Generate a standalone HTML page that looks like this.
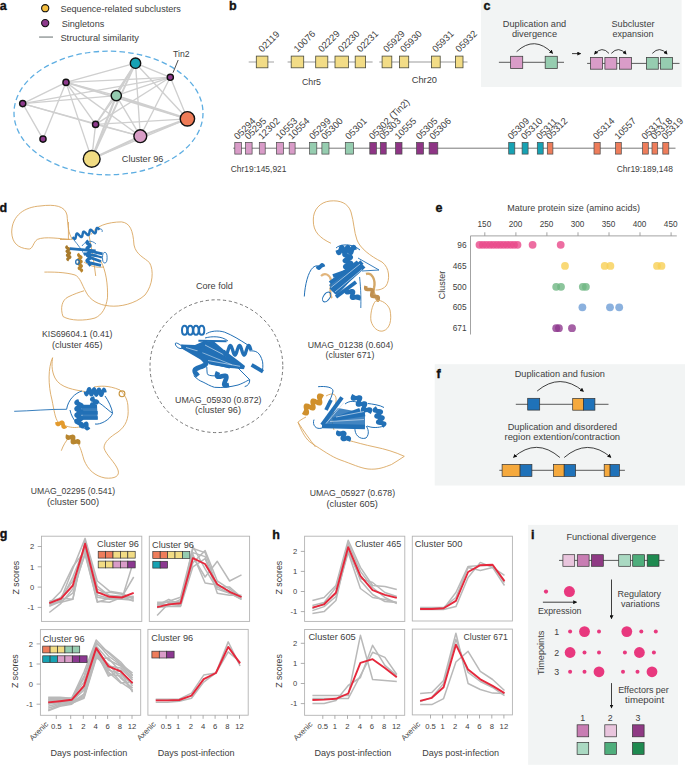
<!DOCTYPE html>
<html><head><meta charset="utf-8"><style>
html,body{margin:0;padding:0;background:#fff;}
svg{display:block;}
text{font-family:"Liberation Sans", sans-serif;}
</style></head><body>
<svg width="685" height="765" viewBox="0 0 685 765">
<rect width="685" height="765" fill="#fff"/>
<text x="-0.3" y="9.9" font-size="12.5" font-weight="bold" fill="#111" stroke="#111" stroke-width="0.35">a</text>
<circle cx="45.2" cy="8.2" r="3.6" fill="#f6bf3f" stroke="#111" stroke-width="1.1"/>
<circle cx="45.2" cy="23.1" r="3.6" fill="#8d3a8c" stroke="#111" stroke-width="1.1"/>
<line x1="39.1" y1="37.1" x2="53" y2="37.1" stroke="#a9aeae" stroke-width="1.8"/>
<text x="60.4" y="12.0" font-size="9" text-anchor="start" fill="#404040" font-weight="normal" textLength="120.5" lengthAdjust="spacingAndGlyphs" >Sequence-related subclusters</text>
<text x="61.7" y="26.6" font-size="9" text-anchor="start" fill="#404040" font-weight="normal" textLength="42.6" lengthAdjust="spacingAndGlyphs" >Singletons</text>
<text x="60.4" y="41.1" font-size="9" text-anchor="start" fill="#404040" font-weight="normal" textLength="78.5" lengthAdjust="spacingAndGlyphs" >Structural similarity</text>
<g stroke="#cfcfcf" stroke-linecap="round">
<line x1="66.0" y1="82.4" x2="135.5" y2="63.2" stroke-width="1.35"/>
<line x1="66.0" y1="82.4" x2="170.3" y2="77.3" stroke-width="1.35"/>
<line x1="66.0" y1="82.4" x2="116.3" y2="95.6" stroke-width="1.35"/>
<line x1="66.0" y1="82.4" x2="187.4" y2="118.8" stroke-width="1.76"/>
<line x1="66.0" y1="82.4" x2="140.3" y2="136.2" stroke-width="1.35"/>
<line x1="66.0" y1="82.4" x2="95.6" y2="124.4" stroke-width="1.35"/>
<line x1="66.0" y1="82.4" x2="91.7" y2="158.9" stroke-width="1.35"/>
<line x1="66.0" y1="82.4" x2="22.7" y2="103.6" stroke-width="1.35"/>
<line x1="66.0" y1="82.4" x2="43.0" y2="139.1" stroke-width="1.35"/>
<line x1="22.7" y1="103.6" x2="116.3" y2="95.6" stroke-width="1.35"/>
<line x1="22.7" y1="103.6" x2="170.3" y2="77.3" stroke-width="1.35"/>
<line x1="22.7" y1="103.6" x2="95.6" y2="124.4" stroke-width="1.35"/>
<line x1="22.7" y1="103.6" x2="43.0" y2="139.1" stroke-width="1.35"/>
<line x1="22.7" y1="103.6" x2="140.3" y2="136.2" stroke-width="1.35"/>
<line x1="135.5" y1="63.2" x2="116.3" y2="95.6" stroke-width="1.98"/>
<line x1="135.5" y1="63.2" x2="91.7" y2="158.9" stroke-width="1.98"/>
<line x1="135.5" y1="63.2" x2="170.3" y2="77.3" stroke-width="1.35"/>
<line x1="135.5" y1="63.2" x2="187.4" y2="118.8" stroke-width="1.35"/>
<line x1="135.5" y1="63.2" x2="140.3" y2="136.2" stroke-width="1.35"/>
<line x1="135.5" y1="63.2" x2="95.6" y2="124.4" stroke-width="1.35"/>
<line x1="170.3" y1="77.3" x2="116.3" y2="95.6" stroke-width="1.35"/>
<line x1="170.3" y1="77.3" x2="95.6" y2="124.4" stroke-width="1.35"/>
<line x1="170.3" y1="77.3" x2="140.3" y2="136.2" stroke-width="1.35"/>
<line x1="170.3" y1="77.3" x2="187.4" y2="118.8" stroke-width="1.35"/>
<line x1="116.3" y1="95.6" x2="91.7" y2="158.9" stroke-width="2.20"/>
<line x1="116.3" y1="95.6" x2="140.3" y2="136.2" stroke-width="1.35"/>
<line x1="116.3" y1="95.6" x2="187.4" y2="118.8" stroke-width="1.98"/>
<line x1="116.3" y1="95.6" x2="95.6" y2="124.4" stroke-width="1.35"/>
<line x1="187.4" y1="118.8" x2="95.6" y2="124.4" stroke-width="1.35"/>
<line x1="187.4" y1="118.8" x2="140.3" y2="136.2" stroke-width="2.20"/>
<line x1="187.4" y1="118.8" x2="91.7" y2="158.9" stroke-width="1.35"/>
<line x1="140.3" y1="136.2" x2="91.7" y2="158.9" stroke-width="2.20"/>
<line x1="140.3" y1="136.2" x2="95.6" y2="124.4" stroke-width="1.35"/>
<line x1="95.6" y1="124.4" x2="91.7" y2="158.9" stroke-width="1.35"/>
</g>
<ellipse cx="108.5" cy="113" rx="94.5" ry="61.8" fill="none" stroke="#5eaee2" stroke-width="1.3" stroke-dasharray="5.5 3.2"/>
<circle cx="135.5" cy="63.2" r="5.2" fill="#16a2b4" stroke="#111" stroke-width="1.4"/>
<circle cx="170.3" cy="77.3" r="3.1" fill="#8d3a8c" stroke="#111" stroke-width="1.4"/>
<circle cx="66.0" cy="82.4" r="3.1" fill="#8d3a8c" stroke="#111" stroke-width="1.4"/>
<circle cx="116.3" cy="95.6" r="5.1" fill="#94ccb0" stroke="#111" stroke-width="1.4"/>
<circle cx="22.7" cy="103.6" r="3.1" fill="#8d3a8c" stroke="#111" stroke-width="1.4"/>
<circle cx="187.4" cy="118.8" r="7.2" fill="#ee7b57" stroke="#111" stroke-width="1.4"/>
<circle cx="95.6" cy="124.4" r="3.1" fill="#8d3a8c" stroke="#111" stroke-width="1.4"/>
<circle cx="43.0" cy="139.1" r="3.1" fill="#8d3a8c" stroke="#111" stroke-width="1.4"/>
<circle cx="140.3" cy="136.2" r="6.4" fill="#d89dc6" stroke="#111" stroke-width="1.4"/>
<circle cx="91.7" cy="158.9" r="8.4" fill="#f1dc83" stroke="#111" stroke-width="1.4"/>
<text x="173.0" y="56.8" font-size="9" text-anchor="start" fill="#404040" font-weight="normal" textLength="16.5" lengthAdjust="spacingAndGlyphs" >Tin2</text>
<line x1="178.2" y1="60" x2="173" y2="72.7" stroke="#222" stroke-width="0.8"/>
<text x="121.8" y="162.0" font-size="9" text-anchor="start" fill="#404040" font-weight="normal" textLength="41.6" lengthAdjust="spacingAndGlyphs" >Cluster 96</text>
<text x="229.0" y="9.9" font-size="12.5" font-weight="bold" fill="#111" stroke="#111" stroke-width="0.35">b</text>
<g stroke="#bdbdbd" stroke-width="1.4">
<line x1="248.7" y1="62" x2="274" y2="62"/>
<line x1="287.6" y1="62" x2="372.6" y2="62"/>
<line x1="379.3" y1="62" x2="467.5" y2="62"/>
</g>
<rect x="256.3" y="56.1" width="11.6" height="11.7" fill="#f2dc86" stroke="#4a4a3a" stroke-width="0.8"/>
<text transform="translate(262.2,52.8) rotate(-45)" font-size="9.4" text-anchor="start" fill="#404040">02119</text>
<rect x="291.2" y="56.1" width="12.5" height="11.7" fill="#f2dc86" stroke="#4a4a3a" stroke-width="0.8"/>
<text transform="translate(297.6,52.8) rotate(-45)" font-size="9.4" text-anchor="start" fill="#404040">10076</text>
<rect x="315.7" y="56.1" width="12.1" height="11.7" fill="#f2dc86" stroke="#4a4a3a" stroke-width="0.8"/>
<text transform="translate(321.9,52.8) rotate(-45)" font-size="9.4" text-anchor="start" fill="#404040">02229</text>
<rect x="335" y="56.1" width="13.4" height="11.7" fill="#f2dc86" stroke="#4a4a3a" stroke-width="0.8"/>
<text transform="translate(341.8,52.8) rotate(-45)" font-size="9.4" text-anchor="start" fill="#404040">02230</text>
<rect x="355.2" y="56.1" width="10.4" height="11.7" fill="#f2dc86" stroke="#4a4a3a" stroke-width="0.8"/>
<text transform="translate(360.5,52.8) rotate(-45)" font-size="9.4" text-anchor="start" fill="#404040">02231</text>
<rect x="382.1" y="56.1" width="9.7" height="11.7" fill="#f2dc86" stroke="#4a4a3a" stroke-width="0.8"/>
<text transform="translate(387.1,52.8) rotate(-45)" font-size="9.4" text-anchor="start" fill="#404040">05929</text>
<rect x="399.4" y="56.1" width="9.3" height="11.7" fill="#f2dc86" stroke="#4a4a3a" stroke-width="0.8"/>
<text transform="translate(404.1,52.8) rotate(-45)" font-size="9.4" text-anchor="start" fill="#404040">05930</text>
<rect x="431.5" y="56.1" width="8.7" height="11.7" fill="#f2dc86" stroke="#4a4a3a" stroke-width="0.8"/>
<text transform="translate(436.0,52.8) rotate(-45)" font-size="9.4" text-anchor="start" fill="#404040">05931</text>
<rect x="455.4" y="56.1" width="7.6" height="11.7" fill="#f2dc86" stroke="#4a4a3a" stroke-width="0.8"/>
<text transform="translate(459.3,52.8) rotate(-45)" font-size="9.4" text-anchor="start" fill="#404040">05932</text>
<text x="301.9" y="84.5" font-size="9" text-anchor="start" fill="#404040" font-weight="normal" textLength="19.1" lengthAdjust="spacingAndGlyphs" >Chr5</text>
<text x="411.7" y="83.0" font-size="9" text-anchor="start" fill="#404040" font-weight="normal" textLength="25.3" lengthAdjust="spacingAndGlyphs" >Chr20</text>
<line x1="233.2" y1="148.2" x2="675.5" y2="148.2" stroke="#6a6a6a" stroke-width="0.9"/>
<rect x="234.8" y="142.4" width="6.6" height="11.7" fill="#d99cc8" stroke="#4a4a4a" stroke-width="0.7"/>
<text transform="translate(237.8,140.1) rotate(-45)" font-size="9.4" text-anchor="start" fill="#404040">05294</text>
<rect x="245.6" y="142.4" width="6.5" height="11.7" fill="#d99cc8" stroke="#4a4a4a" stroke-width="0.7"/>
<text transform="translate(248.5,140.1) rotate(-45)" font-size="9.4" text-anchor="start" fill="#404040">05295</text>
<rect x="259.3" y="142.4" width="5.9" height="11.7" fill="#d99cc8" stroke="#4a4a4a" stroke-width="0.7"/>
<text transform="translate(261.9,140.1) rotate(-45)" font-size="9.4" text-anchor="start" fill="#404040">12302</text>
<rect x="276.4" y="142.4" width="7.0" height="11.7" fill="#d99cc8" stroke="#4a4a4a" stroke-width="0.7"/>
<text transform="translate(279.6,140.1) rotate(-45)" font-size="9.4" text-anchor="start" fill="#404040">10553</text>
<rect x="289.2" y="142.4" width="5.9" height="11.7" fill="#d99cc8" stroke="#4a4a4a" stroke-width="0.7"/>
<text transform="translate(291.8,140.1) rotate(-45)" font-size="9.4" text-anchor="start" fill="#404040">10554</text>
<rect x="309.6" y="142.4" width="7.2" height="11.7" fill="#96cdb0" stroke="#4a4a4a" stroke-width="0.7"/>
<text transform="translate(312.9,140.1) rotate(-45)" font-size="9.4" text-anchor="start" fill="#404040">05299</text>
<rect x="321.9" y="142.4" width="7.1" height="11.7" fill="#96cdb0" stroke="#4a4a4a" stroke-width="0.7"/>
<text transform="translate(325.1,140.1) rotate(-45)" font-size="9.4" text-anchor="start" fill="#404040">05300</text>
<rect x="345.3" y="142.4" width="8.2" height="11.7" fill="#96cdb0" stroke="#4a4a4a" stroke-width="0.7"/>
<text transform="translate(349.1,140.1) rotate(-45)" font-size="9.4" text-anchor="start" fill="#404040">05301</text>
<rect x="369.8" y="142.4" width="6.6" height="11.7" fill="#8e3585" stroke="#4a4a4a" stroke-width="0.7"/>
<text transform="translate(372.8,140.1) rotate(-45)" font-size="9.4" text-anchor="start" fill="#404040">05302 (Tin2)</text>
<rect x="380.3" y="142.4" width="5.9" height="11.7" fill="#8e3585" stroke="#4a4a4a" stroke-width="0.7"/>
<text transform="translate(382.9,140.1) rotate(-45)" font-size="9.4" text-anchor="start" fill="#404040">05303</text>
<rect x="395.5" y="142.4" width="6.5" height="11.7" fill="#8e3585" stroke="#4a4a4a" stroke-width="0.7"/>
<text transform="translate(398.4,140.1) rotate(-45)" font-size="9.4" text-anchor="start" fill="#404040">10555</text>
<rect x="416.5" y="142.4" width="7.0" height="11.7" fill="#8e3585" stroke="#4a4a4a" stroke-width="0.7"/>
<text transform="translate(419.7,140.1) rotate(-45)" font-size="9.4" text-anchor="start" fill="#404040">05305</text>
<rect x="429.1" y="142.4" width="8.7" height="11.7" fill="#8e3585" stroke="#4a4a4a" stroke-width="0.7"/>
<text transform="translate(433.2,140.1) rotate(-45)" font-size="9.4" text-anchor="start" fill="#404040">05306</text>
<rect x="508.7" y="142.4" width="6.1" height="11.7" fill="#17a2b3" stroke="#4a4a4a" stroke-width="0.7"/>
<text transform="translate(511.4,140.1) rotate(-45)" font-size="9.4" text-anchor="start" fill="#404040">05309</text>
<rect x="522.1" y="142.4" width="6.0" height="11.7" fill="#17a2b3" stroke="#4a4a4a" stroke-width="0.7"/>
<text transform="translate(524.8,140.1) rotate(-45)" font-size="9.4" text-anchor="start" fill="#404040">05310</text>
<rect x="537.3" y="142.4" width="5.9" height="11.7" fill="#17a2b3" stroke="#4a4a4a" stroke-width="0.7"/>
<text transform="translate(540.0,140.1) rotate(-45)" font-size="9.4" text-anchor="start" fill="#404040">05311</text>
<rect x="547.3" y="142.4" width="5.6" height="11.7" fill="#ee7d5b" stroke="#4a4a4a" stroke-width="0.7"/>
<text transform="translate(549.8,140.1) rotate(-45)" font-size="9.4" text-anchor="start" fill="#404040">05312</text>
<rect x="594" y="142.4" width="6.2" height="11.7" fill="#ee7d5b" stroke="#4a4a4a" stroke-width="0.7"/>
<text transform="translate(596.8,140.1) rotate(-45)" font-size="9.4" text-anchor="start" fill="#404040">05314</text>
<rect x="615.6" y="142.4" width="5.7" height="11.7" fill="#ee7d5b" stroke="#4a4a4a" stroke-width="0.7"/>
<text transform="translate(618.2,140.1) rotate(-45)" font-size="9.4" text-anchor="start" fill="#404040">10557</text>
<rect x="642.6" y="142.4" width="5.7" height="11.7" fill="#ee7d5b" stroke="#4a4a4a" stroke-width="0.7"/>
<text transform="translate(645.2,140.1) rotate(-45)" font-size="9.4" text-anchor="start" fill="#404040">05317</text>
<rect x="652" y="142.4" width="5.7" height="11.7" fill="#ee7d5b" stroke="#4a4a4a" stroke-width="0.7"/>
<text transform="translate(654.6,140.1) rotate(-45)" font-size="9.4" text-anchor="start" fill="#404040">05318</text>
<rect x="662.8" y="142.4" width="6.0" height="11.7" fill="#ee7d5b" stroke="#4a4a4a" stroke-width="0.7"/>
<text transform="translate(665.5,140.1) rotate(-45)" font-size="9.4" text-anchor="start" fill="#404040">05319</text>
<text x="230.8" y="172.4" font-size="9" text-anchor="start" fill="#404040" font-weight="normal" textLength="55.6" lengthAdjust="spacingAndGlyphs" >Chr19:145,921</text>
<text x="616.7" y="171.6" font-size="9" text-anchor="start" fill="#404040" font-weight="normal" textLength="56.2" lengthAdjust="spacingAndGlyphs" >Chr19:189,148</text>
<rect x="481" y="0" width="200.6" height="87" fill="#f2f4f4"/>
<text x="483.6" y="10.0" font-size="12.5" font-weight="bold" fill="#111" stroke="#111" stroke-width="0.35">c</text>
<text x="534.5" y="27.0" font-size="9" text-anchor="middle" fill="#404040" font-weight="normal" textLength="63.3" lengthAdjust="spacingAndGlyphs" >Duplication and</text>
<text x="534.5" y="36.8" font-size="9" text-anchor="middle" fill="#404040" font-weight="normal" textLength="45.2" lengthAdjust="spacingAndGlyphs" >divergence</text>
<text x="633.0" y="27.0" font-size="9" text-anchor="middle" fill="#404040" font-weight="normal" textLength="43" lengthAdjust="spacingAndGlyphs" >Subcluster</text>
<text x="633.0" y="37.0" font-size="9" text-anchor="middle" fill="#404040" font-weight="normal" textLength="40.8" lengthAdjust="spacingAndGlyphs" >expansion</text>
<line x1="498.9" y1="62.3" x2="564" y2="62.3" stroke="#333" stroke-width="0.8"/>
<rect x="510.6" y="56.3" width="12.1" height="12.2" fill="#d99cc8" stroke="#444" stroke-width="0.8"/>
<rect x="545.2" y="56.3" width="12.1" height="12.2" fill="#96cdb0" stroke="#444" stroke-width="0.8"/>
<line x1="587.1" y1="63.4" x2="679.5" y2="63.4" stroke="#333" stroke-width="0.8"/>
<rect x="590.6" y="57.4" width="11.9" height="11.8" fill="#d99cc8" stroke="#444" stroke-width="0.8"/>
<rect x="604.9" y="57.4" width="11.9" height="11.8" fill="#d99cc8" stroke="#444" stroke-width="0.8"/>
<rect x="619.5" y="57.4" width="11.9" height="11.8" fill="#d99cc8" stroke="#444" stroke-width="0.8"/>
<rect x="646.4" y="57.4" width="11.9" height="11.8" fill="#96cdb0" stroke="#444" stroke-width="0.8"/>
<rect x="660.6" y="57.4" width="11.9" height="11.8" fill="#96cdb0" stroke="#444" stroke-width="0.8"/>
<defs><marker id="ah" viewBox="0 0 10 10" refX="8" refY="5" markerWidth="5" markerHeight="5" orient="auto-start-reverse"><path d="M0,0 L10,5 L0,10 z" fill="#111"/></marker></defs>
<g fill="none" stroke="#111" stroke-width="0.8">
<path d="M516.6,51.7 Q534.5,35 552.5,53.2" marker-end="url(#ah)"/>
<path d="M609,53.4 Q602,45.5 594.6,54" marker-end="url(#ah)"/>
<path d="M611.3,53.4 Q618.5,45.5 626,54" marker-end="url(#ah)"/>
<path d="M652.3,53.4 Q659.6,45.5 667,54" marker-end="url(#ah)"/>
<line x1="572" y1="53.6" x2="580.5" y2="53.6" marker-end="url(#ah)"/>
</g>
<text x="-0.5" y="211.8" font-size="12.5" font-weight="bold" fill="#111" stroke="#111" stroke-width="0.35">d</text>
<path d="M72.4,239.4 C60,239 45,236 37.4,239.4 C33,242 33,250 28,249 C18,248 12,243 11.7,232 C12,215 25,207 40,206 C55,204 65,206 67,215 C68,225 68,233 72.4,239.4" fill="none" stroke="#d8a257" stroke-width="0.85"/>
<path d="M91,234.7 C95,226 108,222 121.5,221.9 C130,223 133,230 134,245 C136,255 145,258 149.5,262.7 C154,270 153,285 145,295 C135,304 120,307 109.8,306 C98,305 90,300 86,292 C82,285 80,277 75,275 C65,272 52,272 44.4,272.1" fill="none" stroke="#d8a257" stroke-width="0.85"/>
<path d="M100.4,260.4 C106,270 108,285 107.5,297.8 C106,308 102,315 95,318 C85,321 70,321 63,316.5 C60,308 62,300 68,297 C74,294 80,292 84,290.8" fill="none" stroke="#d8a257" stroke-width="0.85"/>
<path d="M60,239.5 L69.9,239.5" fill="none" stroke="#d8a257" stroke-width="0.85"/>
<path d="M68.4,222 L68.4,239.5" fill="none" stroke="#d8a257" stroke-width="0.85"/>
<path d="M88.9,234.9 C92,250 94,262 95.7,276" fill="none" stroke="#d8a257" stroke-width="0.85"/>
<path d="M84,262 C90,266 96,268 104,267" fill="none" stroke="#d8a257" stroke-width="0.85"/>
<path d="M72.5,237.2 L73.2,237.9 L73.8,238.5 L74.3,238.9 L74.8,238.9 L75.2,238.7 L75.5,238.1 L75.7,237.2 L75.9,236.2 L76.1,235.3 L76.3,234.4 L76.6,233.8 L76.9,233.6 L77.4,233.6 L78.0,234.0 L78.6,234.6 L79.2,235.3 L79.9,236.0 L80.5,236.6 L81.1,237.0 L81.6,237.0 L81.9,236.8 L82.2,236.2 L82.4,235.3 L82.6,234.3 L82.8,233.4 L83.0,232.5 L83.3,231.9 L83.7,231.7 L84.2,231.7 L84.7,232.1 L85.3,232.7 L86.0,233.4 L86.7,234.1 L87.3,234.7 L87.8,235.1 L88.3,235.1 L88.7,234.9 L89.0,234.3 L89.2,233.4 L89.4,232.4 L89.6,231.5 L89.8,230.6 L90.1,230.0 L90.4,229.8 L90.9,229.8 L91.5,230.2 L92.1,230.8 L92.8,231.5 L93.4,232.2 L94.0,232.8 L94.6,233.2 L95.1,233.2 L95.4,233.0 L95.7,232.4 L95.9,231.5 L96.1,230.5 L96.3,229.6 L96.5,228.7 L96.8,228.1 L97.2,227.9 L97.7,227.9 L98.2,228.3 L98.8,228.9 L99.5,229.6" fill="none" stroke="#2270b6" stroke-width="2.465" stroke-linejoin="round"/>
<path d="M67.8,246.3 L67.3,246.6 L66.9,246.9 L66.7,247.1 L66.6,247.4 L66.7,247.6 L67.0,247.8 L67.5,248.1 L68.0,248.3 L68.5,248.5 L68.9,248.7 L69.2,248.9 L69.4,249.1 L69.3,249.4 L69.0,249.6 L68.6,249.9 L68.1,250.2 L67.7,250.5 L67.3,250.8 L67.0,251.1 L66.9,251.3 L67.1,251.5 L67.4,251.8 L67.8,252.0 L68.3,252.2 L68.8,252.4 L69.3,252.6 L69.6,252.8 L69.7,253.0 L69.6,253.3 L69.4,253.6 L69.0,253.8 L68.5,254.1 L68.0,254.4 L67.6,254.7 L67.4,255.0 L67.3,255.2 L67.4,255.5 L67.7,255.7 L68.1,255.9 L68.7,256.1 L69.2,256.3 L69.6,256.5 L69.9,256.7 L70.0,257.0 L70.0,257.2 L69.7,257.5 L69.3,257.8 L68.8,258.0 L68.4,258.3 L68.0,258.6 L67.7,258.9 L67.6,259.1 L67.7,259.4 L68.0,259.6 L68.5,259.8 L69.0,260.0" fill="none" stroke="#a87a2c" stroke-width="2.9" stroke-linejoin="round"/>
<path d="M79.7,254.0 L79.2,254.3 L78.8,254.6 L78.5,254.9 L78.5,255.1 L78.6,255.4 L78.9,255.7 L79.3,255.9 L79.8,256.2 L80.3,256.4 L80.7,256.7 L81.0,256.9 L81.1,257.2 L81.1,257.5 L80.8,257.8 L80.4,258.1 L79.9,258.4 L79.4,258.6 L79.0,258.9 L78.7,259.2 L78.7,259.5 L78.8,259.8 L79.1,260.0 L79.5,260.3 L80.0,260.5 L80.5,260.8 L80.9,261.0 L81.2,261.3 L81.3,261.6 L81.3,261.8 L81.0,262.1 L80.6,262.4 L80.1,262.7 L79.6,263.0 L79.2,263.3 L78.9,263.6 L78.9,263.8 L79.0,264.1 L79.3,264.4 L79.7,264.6 L80.2,264.9 L80.7,265.1 L81.1,265.4 L81.4,265.6 L81.5,265.9 L81.5,266.2 L81.2,266.5 L80.8,266.8 L80.3,267.0 L79.8,267.3 L79.4,267.6 L79.1,267.9 L79.1,268.2 L79.2,268.5 L79.5,268.7 L79.9,269.0 L80.4,269.2 L80.9,269.5 L81.3,269.7 L81.6,270.0 L81.7,270.3 L81.7,270.5 L81.4,270.8 L81.0,271.1 L80.5,271.4" fill="none" stroke="#b8842c" stroke-width="2.9" stroke-linejoin="round"/>
<path d="M88.5,241.0 L87.9,241.4 L87.4,241.8 L87.1,242.1 L87.0,242.5 L87.1,242.9 L87.4,243.3 L87.9,243.7 L88.5,244.0 L89.1,244.4 L89.6,244.8 L89.9,245.2 L90.0,245.6 L89.9,245.9 L89.6,246.3 L89.1,246.7 L88.5,247.1 L87.9,247.5 L87.4,247.8 L87.1,248.2 L87.0,248.6 L87.1,249.0 L87.4,249.4 L87.9,249.7 L88.5,250.1 L89.1,250.5 L89.6,250.9 L89.9,251.3 L90.0,251.6 L89.9,252.0 L89.6,252.4 L89.1,252.8 L88.5,253.2 L87.9,253.5 L87.4,253.9 L87.1,254.3 L87.0,254.7 L87.1,255.0 L87.4,255.4 L87.9,255.8 L88.5,256.2 L89.1,256.6 L89.6,256.9 L89.9,257.3 L90.0,257.7 L89.9,258.1 L89.6,258.5 L89.1,258.8 L88.5,259.2 L87.9,259.6 L87.4,260.0 L87.1,260.4 L87.0,260.7 L87.1,261.1 L87.4,261.5 L87.9,261.9 L88.5,262.3 L89.1,262.6 L89.6,263.0 L89.9,263.4 L90.0,263.8 L89.9,264.2 L89.6,264.5 L89.1,264.9 L88.5,265.3" fill="none" stroke="#2270b6" stroke-width="3.3349999999999995" stroke-linejoin="round"/>
<line x1="69.9" y1="248.6" x2="95.7" y2="250.9" stroke="#2270b6" stroke-width="2.61" stroke-linecap="butt"/>
<line x1="88.9" y1="250.9" x2="102.5" y2="253.9" stroke="#2270b6" stroke-width="2.755" stroke-linecap="butt"/>
<line x1="90.4" y1="257.7" x2="101" y2="261.5" stroke="#2270b6" stroke-width="2.9" stroke-linecap="butt"/>
<line x1="90.4" y1="263" x2="101" y2="265.3" stroke="#2270b6" stroke-width="2.9" stroke-linecap="butt"/>
<line x1="84" y1="253.5" x2="97" y2="256" stroke="#2270b6" stroke-width="2.61" stroke-linecap="butt"/>
<line x1="91" y1="254.5" x2="102" y2="257.5" stroke="#2270b6" stroke-width="2.32" stroke-linecap="butt"/>
<ellipse cx="104.8" cy="257.7" rx="2.3" ry="5.3" fill="none" stroke="#2270b6" stroke-width="0.9" transform="rotate(0 104.8 257.7)"/>
<ellipse cx="77.5" cy="262" rx="1.8" ry="2.4" fill="none" stroke="#2270b6" stroke-width="1.3" transform="rotate(0 77.5 262)"/>
<path d="M74,240 C78,245 82,250 85,256" fill="none" stroke="#2270b6" stroke-width="0.8"/>
<path d="M82,246 C86,240 92,240 96,244" fill="none" stroke="#2270b6" stroke-width="0.8"/>
<path d="M99.5,229.6 C101,228 103,230 102,232" fill="none" stroke="#2270b6" stroke-width="0.8"/>
<text x="77.2" y="336.8" font-size="8.8" text-anchor="middle" fill="#404040" font-weight="normal" textLength="70.5" lengthAdjust="spacingAndGlyphs" >KIS69604.1 (0.41)</text>
<text x="77.2" y="347.6" font-size="8.8" text-anchor="middle" fill="#404040" font-weight="normal" textLength="50.4" lengthAdjust="spacingAndGlyphs" >(cluster 465)</text>
<text x="214.4" y="289.3" font-size="8.8" text-anchor="middle" fill="#404040" font-weight="normal" textLength="36.9" lengthAdjust="spacingAndGlyphs" >Core fold</text>
<circle cx="216.4" cy="366.2" r="66.4" fill="none" stroke="#555" stroke-width="0.8" stroke-dasharray="3.2 2.6"/>
<ellipse cx="184.6" cy="330.3" rx="2.6" ry="4.5" fill="none" stroke="#2270b6" stroke-width="2.0" transform="rotate(0 184.6 330.3)"/>
<ellipse cx="190.3" cy="330.3" rx="2.6" ry="4.5" fill="none" stroke="#2270b6" stroke-width="2.0" transform="rotate(0 190.3 330.3)"/>
<ellipse cx="196" cy="330.3" rx="2.6" ry="4.5" fill="none" stroke="#2270b6" stroke-width="2.0" transform="rotate(0 196 330.3)"/>
<ellipse cx="201.7" cy="330.3" rx="2.6" ry="4.5" fill="none" stroke="#2270b6" stroke-width="2.0" transform="rotate(0 201.7 330.3)"/>
<path d="M205.9,334.1 C210,331 218,330 224.7,332.2 C232,335 240,340 247.7,344.9" fill="none" stroke="#2270b6" stroke-width="1"/>
<path d="M193.7,375.6 C197,379 200,381 203.1,382.1 C207,384 210,386 214.4,387.3 C222,388 230,387 238,385 C244,383 248,380 249.7,379.7" fill="none" stroke="#2270b6" stroke-width="1"/>
<path d="M206.8,367 C207,371 207,374 207.8,374.6 C210,376 214,376 216.3,375.6" fill="none" stroke="#2270b6" stroke-width="1"/>
<path d="M249.6,350.9 C256,350.5 260,352 262.6,361.8 C263,366 263,369 262,371" fill="none" stroke="#2270b6" stroke-width="1"/>
<path d="M229.8,359.8 C236,366 244,374 249.7,379.7 C250,383 248,386 244.7,386.6" fill="none" stroke="#2270b6" stroke-width="1"/>
<path d="M205,338 C212,336 222,336 228,341" fill="none" stroke="#2270b6" stroke-width="1"/>
<path d="M182.4,346.4 C178,343 175,342 175.3,344 C176,347 179,349 182.4,348.5" fill="none" stroke="#2270b6" stroke-width="1"/>
<polygon points="181,344.5 195,345 203,341.5 214,341.5 224,350 240,362 245,366 244,369 230,368 212,365 205,361 190,352 182,348.5" fill="#2270b6" fill-opacity="1"/>
<line x1="181.4" y1="346.4" x2="203.1" y2="349.2" stroke="#2270b6" stroke-width="3.19" stroke-linecap="butt"/>
<line x1="182.4" y1="347.3" x2="205" y2="360.5" stroke="#2270b6" stroke-width="3.045" stroke-linecap="butt"/>
<line x1="198.4" y1="340.8" x2="226.6" y2="341.2" stroke="#2270b6" stroke-width="2.03" stroke-linecap="butt"/>
<line x1="203.1" y1="341.7" x2="221" y2="351" stroke="#2270b6" stroke-width="2.9" stroke-linecap="butt"/>
<line x1="204" y1="341" x2="224.8" y2="356.8" stroke="#2270b6" stroke-width="3.045" stroke-linecap="butt"/>
<line x1="200" y1="349.9" x2="232.8" y2="362.8" stroke="#2270b6" stroke-width="3.045" stroke-linecap="butt"/>
<line x1="207.8" y1="361.4" x2="230" y2="367" stroke="#2270b6" stroke-width="3.045" stroke-linecap="butt"/>
<line x1="209" y1="362.8" x2="243.7" y2="367.7" stroke="#2270b6" stroke-width="3.045" stroke-linecap="butt"/>
<line x1="251.6" y1="364.8" x2="263" y2="371.7" stroke="#2270b6" stroke-width="3.77" stroke-linecap="butt"/>
<line x1="186" y1="347.5" x2="203" y2="352.5" stroke="#cfe0f0" stroke-width="0.7"/>
<line x1="205" y1="345" x2="226" y2="356" stroke="#cfe0f0" stroke-width="0.7"/>
<line x1="208" y1="360.5" x2="240" y2="366.3" stroke="#cfe0f0" stroke-width="0.7"/>
<line x1="202" y1="352.5" x2="232" y2="364.8" stroke="#cfe0f0" stroke-width="0.6"/>
<path d="M223.5,350.3 L224.1,352.1 L224.6,353.7 L225.2,354.7 L225.8,355.1 L226.4,354.7 L226.9,353.7 L227.5,352.1 L228.1,350.3 L228.7,348.5 L229.2,346.9 L229.8,345.9 L230.4,345.5 L230.9,345.9 L231.5,346.9 L232.1,348.5 L232.7,350.3 L233.2,352.1 L233.8,353.7 L234.4,354.7 L235.0,355.1 L235.5,354.7 L236.1,353.7 L236.7,352.1 L237.2,350.3 L237.8,348.5 L238.4,346.9 L239.0,345.9 L239.5,345.5 L240.1,345.9 L240.7,346.9 L241.3,348.5 L241.8,350.3 L242.4,352.1 L243.0,353.7 L243.6,354.7 L244.1,355.1 L244.7,354.7 L245.3,353.7 L245.8,352.1 L246.4,350.3 L247.0,348.5 L247.6,346.9 L248.1,345.9 L248.7,345.5 L249.3,345.9 L249.9,346.9 L250.4,348.5 L251.0,350.3" fill="none" stroke="#2270b6" stroke-width="3.3349999999999995" stroke-linejoin="round"/>
<path d="M205.0,349.0 L203.0,349.7 L201.3,350.5 L200.1,351.3 L199.5,352.4 L199.5,353.6 L200.2,355.0 L201.3,356.4 L202.7,358.0 L204.0,359.6 L205.2,361.0 L205.8,362.4 L205.9,363.6 L205.2,364.7 L204.0,365.5 L202.3,366.3 L200.3,367.0 L198.4,367.7 L196.7,368.5 L195.4,369.3 L194.8,370.4 L194.9,371.6 L195.5,373.0 L196.6,374.4 L198.0,376.0" fill="none" stroke="#2270b6" stroke-width="4.93" stroke-linejoin="round"/>
<path d="M218.0,372.0 L217.4,373.4 L217.0,374.7 L216.9,375.7 L217.2,376.4 L217.8,376.8 L218.9,376.8 L220.2,376.7 L221.7,376.3 L223.1,376.0 L224.5,375.8 L225.5,375.9 L226.2,376.2 L226.4,377.0 L226.3,378.0 L225.9,379.3 L225.3,380.7 L224.8,382.1 L224.4,383.3 L224.2,384.4 L224.5,385.1 L225.2,385.5 L226.2,385.5 L227.5,385.3 L229.0,385.0" fill="none" stroke="#2270b6" stroke-width="4.64" stroke-linejoin="round"/>
<text x="218.3" y="402.6" font-size="8.8" text-anchor="middle" fill="#404040" font-weight="normal" textLength="86.5" lengthAdjust="spacingAndGlyphs" >UMAG_05930 (0.872)</text>
<text x="218.0" y="413.2" font-size="8.8" text-anchor="middle" fill="#404040" font-weight="normal" textLength="46" lengthAdjust="spacingAndGlyphs" >(cluster 96)</text>
<path d="M331,243.3 C320,238 313,232 313.3,220 C313,210 320,202 330,201 C340,200 348,203 351,212 C354,222 354,232 357,240 C360,248 370,256 382,262 C390,268 390,280 386,286 C382,290 378,290 375.6,290" fill="none" stroke="#d8a257" stroke-width="0.85"/>
<path d="M375.6,301 C372,305 370,315 371,321 C373,328 378,332 383,331 C390,329 392,320 390,310 C388,304 382,300 376,300" fill="none" stroke="#d8a257" stroke-width="0.85"/>
<path d="M321,276 C325,272 330,275 331,280 C332,288 328,294 332,298" fill="none" stroke="#e2b57c" stroke-width="2.2"/>
<path d="M366,274 C372,272 376,280 374,288 C372,295 378,300 378,302" fill="none" stroke="#d4a868" stroke-width="2.4"/>
<path d="M366.0,286.0 L365.8,286.9 L365.7,287.8 L365.7,288.5 L366.0,289.1 L366.5,289.4 L367.2,289.5 L368.0,289.6 L369.0,289.5 L370.0,289.4 L370.8,289.5 L371.5,289.6 L372.0,289.9 L372.3,290.5 L372.3,291.2 L372.2,292.1 L372.0,293.0 L371.8,293.9 L371.7,294.8 L371.7,295.5 L372.0,296.1 L372.5,296.4 L373.2,296.5 L374.0,296.6 L375.0,296.5 L376.0,296.4 L376.8,296.5 L377.5,296.6 L378.0,296.9 L378.3,297.5 L378.3,298.2 L378.2,299.1 L378.0,300.0" fill="none" stroke="#c09050" stroke-width="3.48" stroke-linejoin="round"/>
<path d="M304.3,296.5 C305,285 308,272 313,267.5 C316,265 318,266 320,266" fill="none" stroke="#2270b6" stroke-width="1"/>
<ellipse cx="326.6" cy="297" rx="3.2" ry="5.5" fill="none" stroke="#2270b6" stroke-width="1" transform="rotate(35 326.6 297)"/>
<path d="M358,258 L379,270 L362,271" fill="none" stroke="#2270b6" stroke-width="0.9"/>
<path d="M359.6,277 C361,290 361,300 360.8,308" fill="none" stroke="#2270b6" stroke-width="0.9"/>
<path d="M336,248 C340,244 352,243 360,250" fill="none" stroke="#2270b6" stroke-width="1"/>
<path d="M337.5,250.0 L337.9,251.1 L338.2,252.1 L338.6,252.8 L339.0,253.0 L339.3,252.8 L339.7,252.1 L340.1,251.1 L340.4,250.0 L340.8,248.9 L341.1,247.9 L341.5,247.2 L341.9,247.0 L342.2,247.2 L342.6,247.9 L343.0,248.9 L343.3,250.0 L343.7,251.1 L344.1,252.1 L344.4,252.8 L344.8,253.0 L345.2,252.8 L345.5,252.1 L345.9,251.1 L346.2,250.0 L346.6,248.9 L347.0,247.9 L347.3,247.2 L347.7,247.0 L348.1,247.2 L348.4,247.9 L348.8,248.9 L349.2,250.0 L349.5,251.1 L349.9,252.1 L350.3,252.8 L350.6,253.0 L351.0,252.8 L351.4,252.1 L351.7,251.1 L352.1,250.0 L352.4,248.9 L352.8,247.9 L353.2,247.2 L353.5,247.0 L353.9,247.2 L354.3,247.9 L354.6,248.9 L355.0,250.0" fill="none" stroke="#2270b6" stroke-width="4.35" stroke-linejoin="round"/>
<path d="M347.5,253.0 L346.3,253.4 L345.3,253.9 L344.6,254.3 L344.4,254.7 L344.7,255.0 L345.4,255.4 L346.4,255.7 L347.7,256.0 L348.9,256.3 L350.0,256.6 L350.7,257.0 L350.9,257.3 L350.7,257.7 L350.1,258.1 L349.0,258.6 L347.8,259.0 L346.6,259.4 L345.6,259.9 L344.9,260.3 L344.7,260.7 L345.0,261.0 L345.7,261.4 L346.8,261.7 L348.0,262.0 L349.2,262.3 L350.3,262.6 L351.0,263.0 L351.3,263.3 L351.1,263.7 L350.4,264.1 L349.4,264.6 L348.2,265.0 L347.0,265.4 L345.9,265.9 L345.3,266.3 L345.1,266.7 L345.3,267.0 L346.0,267.4 L347.1,267.7 L348.3,268.0 L349.6,268.3 L350.6,268.6 L351.3,269.0 L351.6,269.3 L351.4,269.7 L350.7,270.1 L349.7,270.6 L348.5,271.0" fill="none" stroke="#2270b6" stroke-width="4.35" stroke-linejoin="round"/>
<polygon points="329,285 357,263 363,266 337,296" fill="#2270b6" fill-opacity="0.9"/>
<line x1="331" y1="290" x2="362" y2="262" stroke="#2270b6" stroke-width="4.64" stroke-linecap="butt"/>
<line x1="334" y1="293" x2="364" y2="266" stroke="#2270b6" stroke-width="4.35" stroke-linecap="butt"/>
<line x1="330" y1="283" x2="358" y2="262" stroke="#2270b6" stroke-width="4.06" stroke-linecap="butt"/>
<line x1="333" y1="276" x2="350" y2="270" stroke="#2270b6" stroke-width="3.77" stroke-linecap="butt"/>
<line x1="336" y1="297" x2="356" y2="282" stroke="#2270b6" stroke-width="3.77" stroke-linecap="butt"/>
<line x1="331" y1="287.5" x2="360" y2="264" stroke="#cfe0f0" stroke-width="0.7"/>
<line x1="335" y1="292" x2="362" y2="269.5" stroke="#cfe0f0" stroke-width="0.7"/>
<path d="M347.0,289.0 L346.7,290.0 L346.4,290.9 L346.4,291.7 L346.6,292.1 L347.1,292.4 L347.8,292.3 L348.7,292.1 L349.8,291.8 L350.8,291.4 L351.7,291.2 L352.4,291.1 L352.9,291.4 L353.1,291.8 L353.1,292.6 L352.8,293.5 L352.5,294.5 L352.2,295.5 L351.9,296.4 L351.9,297.2 L352.1,297.6 L352.6,297.9 L353.3,297.8 L354.2,297.6 L355.2,297.2 L356.3,296.9 L357.2,296.7 L357.9,296.6 L358.4,296.9 L358.6,297.3 L358.6,298.1 L358.3,299.0 L358.0,300.0" fill="none" stroke="#2270b6" stroke-width="4.35" stroke-linejoin="round"/>
<path d="M317.5,266.0 L317.8,266.7 L318.0,267.4 L318.4,267.8 L318.7,268.0 L319.1,268.0 L319.5,267.6 L320.0,267.1 L320.5,266.5 L321.0,265.9 L321.5,265.4 L321.9,265.0 L322.3,265.0 L322.6,265.2 L323.0,265.6 L323.2,266.3 L323.5,267.0" fill="none" stroke="#2270b6" stroke-width="3.77" stroke-linejoin="round"/>
<text x="350.5" y="347.6" font-size="8.8" text-anchor="middle" fill="#404040" font-weight="normal" textLength="85.5" lengthAdjust="spacingAndGlyphs" >UMAG_01238 (0.604)</text>
<text x="350.0" y="358.2" font-size="8.8" text-anchor="middle" fill="#404040" font-weight="normal" textLength="48.8" lengthAdjust="spacingAndGlyphs" >(cluster 671)</text>
<path d="M85.4,391.6 C75,390 60,388 55,378 C51,370 52,362 52.6,357.7 C48,368 48,385 52,400 C54,410 55,418 58,422" fill="none" stroke="#d8a257" stroke-width="0.85"/>
<path d="M66,426 C72,428 78,428 82,426" fill="none" stroke="#d8a257" stroke-width="0.85"/>
<path d="M94,387 C100,386 108,385 120,390 C125,395 128,400 128,408 C129,418 126,426 118,432 C110,437 104,442 104,448 C106,455 115,462 118,470 C120,476 115,479 105,478 C95,476 88,470 84,460 C81,450 80,445 76,442" fill="none" stroke="#d8a257" stroke-width="0.85"/>
<circle cx="122" cy="393.8" r="2.9" fill="none" stroke="#c8953f" stroke-width="1.1"/>
<path d="M70,437 C66,440 63,446 61.3,450.7" fill="none" stroke="#d8a257" stroke-width="0.85"/>
<path d="M57.0,422.0 L57.1,422.8 L57.2,423.5 L57.4,424.0 L57.8,424.3 L58.2,424.4 L58.7,424.2 L59.3,423.8 L60.0,423.3 L60.7,422.9 L61.3,422.5 L61.8,422.3 L62.2,422.4 L62.6,422.6 L62.8,423.2 L62.9,423.9 L63.0,424.7 L63.1,425.5 L63.2,426.2 L63.4,426.7 L63.8,427.0 L64.2,427.0 L64.7,426.8 L65.3,426.5 L66.0,426.0" fill="none" stroke="#e39a2c" stroke-width="3.77" stroke-linejoin="round"/>
<path d="M68.0,435.0 L67.7,435.9 L67.6,436.7 L67.6,437.4 L67.8,437.8 L68.2,437.9 L68.8,437.8 L69.6,437.6 L70.5,437.2 L71.4,436.9 L72.2,436.7 L72.8,436.6 L73.2,436.7 L73.4,437.1 L73.4,437.8 L73.3,438.6 L73.0,439.5 L72.7,440.4 L72.6,441.2 L72.6,441.9 L72.8,442.3 L73.2,442.4 L73.8,442.3 L74.6,442.1 L75.5,441.8 L76.4,441.4 L77.2,441.2 L77.8,441.1 L78.2,441.2 L78.4,441.6 L78.4,442.3 L78.3,443.1 L78.0,444.0" fill="none" stroke="#b8862f" stroke-width="4.06" stroke-linejoin="round"/>
<path d="M14.2,411.3 C30,411 50,409 66.6,409.3" fill="none" stroke="#2270b6" stroke-width="0.9"/>
<path d="M66.6,409.3 C68,400 75,393 82,391" fill="none" stroke="#2270b6" stroke-width="1"/>
<path d="M105,396 C108,400 112,408 112.6,413.3 C110,420 100,425 95,424" fill="none" stroke="#2270b6" stroke-width="1"/>
<path d="M70,410 C72,420 80,428 87,429" fill="none" stroke="#2270b6" stroke-width="1"/>
<path d="M98,402 C104,406 108,410 112,413" fill="none" stroke="#2270b6" stroke-width="1"/>
<path d="M85.4,391.5 L85.6,392.7 L85.9,393.6 L86.2,394.3 L86.5,394.6 L86.8,394.3 L87.1,393.7 L87.5,392.8 L87.9,391.6 L88.2,390.5 L88.6,389.5 L88.9,388.9 L89.2,388.7 L89.5,388.9 L89.8,389.6 L90.1,390.6 L90.3,391.8 L90.5,392.9 L90.8,393.9 L91.1,394.6 L91.4,394.8 L91.7,394.6 L92.0,394.0 L92.4,393.0 L92.8,391.9 L93.1,390.7 L93.5,389.8 L93.8,389.2 L94.1,388.9 L94.4,389.2 L94.7,389.9 L95.0,390.8 L95.2,392.0 L95.4,393.2 L95.7,394.1 L96.0,394.8 L96.3,395.1 L96.6,394.8 L96.9,394.2 L97.3,393.3 L97.7,392.1 L98.0,391.0 L98.4,390.0 L98.7,389.4 L99.0,389.2 L99.3,389.4 L99.6,390.1 L99.9,391.1 L100.1,392.2 L100.3,393.4 L100.6,394.4 L100.9,395.1 L101.2,395.3 L101.5,395.1 L101.8,394.5 L102.2,393.5 L102.5,392.4 L102.9,391.2 L103.3,390.3 L103.6,389.7 L103.9,389.4 L104.2,389.7 L104.5,390.4 L104.8,391.3 L105.0,392.5" fill="none" stroke="#2270b6" stroke-width="3.48" stroke-linejoin="round"/>
<path d="M79.0,401.0 L78.0,401.4 L77.2,401.8 L76.6,402.2 L76.4,402.6 L76.6,403.0 L77.2,403.3 L78.0,403.7 L79.0,404.1 L80.0,404.5 L80.8,404.9 L81.4,405.3 L81.6,405.7 L81.4,406.1 L80.8,406.5 L80.0,406.9 L79.0,407.2 L78.0,407.6 L77.2,408.0 L76.6,408.4 L76.4,408.8 L76.6,409.2 L77.2,409.6 L78.0,410.0 L79.0,410.4 L80.0,410.8 L80.8,411.2 L81.4,411.5 L81.6,411.9 L81.4,412.3 L80.8,412.7 L80.0,413.1 L79.0,413.5 L78.0,413.9 L77.2,414.3 L76.6,414.7 L76.4,415.1 L76.6,415.5 L77.2,415.8 L78.0,416.2 L79.0,416.6 L80.0,417.0 L80.8,417.4 L81.4,417.8 L81.6,418.2 L81.4,418.6 L80.8,419.0 L80.0,419.4 L79.0,419.8 L78.0,420.1 L77.2,420.5 L76.6,420.9 L76.4,421.3 L76.6,421.7 L77.2,422.1 L78.0,422.5 L79.0,422.9 L80.0,423.3 L80.8,423.7 L81.4,424.0 L81.6,424.4 L81.4,424.8 L80.8,425.2 L80.0,425.6 L79.0,426.0" fill="none" stroke="#2270b6" stroke-width="4.35" stroke-linejoin="round"/>
<path d="M94.6,398.0 L93.5,398.3 L92.6,398.7 L92.0,399.0 L91.8,399.3 L92.0,399.7 L92.6,400.0 L93.5,400.3 L94.6,400.7 L95.7,401.0 L96.6,401.3 L97.2,401.7 L97.4,402.0 L97.2,402.3 L96.6,402.7 L95.7,403.0 L94.6,403.3 L93.5,403.7 L92.6,404.0 L92.0,404.3 L91.8,404.7 L92.0,405.0 L92.6,405.3 L93.5,405.7 L94.6,406.0" fill="none" stroke="#2270b6" stroke-width="3.77" stroke-linejoin="round"/>
<polygon points="81,405 97,405 97.7,419.5 82.8,419.5" fill="#2270b6" fill-opacity="0.9"/>
<line x1="81" y1="406.5" x2="97" y2="406.5" stroke="#2270b6" stroke-width="3.48" stroke-linecap="butt"/>
<line x1="81" y1="412.8" x2="97.7" y2="412.8" stroke="#2270b6" stroke-width="3.48" stroke-linecap="butt"/>
<line x1="82.8" y1="418" x2="97.7" y2="418" stroke="#2270b6" stroke-width="3.48" stroke-linecap="butt"/>
<path d="M82.0,424.0 L82.0,424.9 L82.0,425.7 L82.1,426.2 L82.3,426.5 L82.7,426.5 L83.1,426.2 L83.7,425.6 L84.3,425.0 L85.0,424.4 L85.5,423.8 L86.0,423.5 L86.4,423.5 L86.6,423.8 L86.7,424.3 L86.7,425.1 L86.7,426.0 L86.6,426.9 L86.6,427.7 L86.7,428.2 L87.0,428.5 L87.3,428.5 L87.8,428.2 L88.4,427.6 L89.0,427.0" fill="none" stroke="#2270b6" stroke-width="3.77" stroke-linejoin="round"/>
<text x="73.0" y="494.3" font-size="8.8" text-anchor="middle" fill="#404040" font-weight="normal" textLength="84.3" lengthAdjust="spacingAndGlyphs" >UMAG_02295 (0.541)</text>
<text x="73.0" y="504.8" font-size="8.8" text-anchor="middle" fill="#404040" font-weight="normal" textLength="52" lengthAdjust="spacingAndGlyphs" >(cluster 500)</text>
<path d="M306,417 C302,419 299,421 298,422.3 C302,432 306,440 312,443.4 C322,450 332,457 340,459.8 C352,464 360,468 368,469 C378,470 385,467 391.5,464.5 C396,462 400,459 404.3,456.3 C395,452 385,449 375,447 C365,445 355,442 347,440" fill="none" stroke="#d8a257" stroke-width="0.85"/>
<path d="M298,422.3 C303,430 310,440 315.5,447" fill="none" stroke="#d8a257" stroke-width="0.85"/>
<path d="M326,396 C333,392 337,394 336,402 C334,410 330,420 334,430" fill="none" stroke="#d8a257" stroke-width="0.85"/>
<path d="M303.0,412.0 L304.2,412.7 L305.2,413.2 L306.0,413.4 L306.6,413.3 L306.9,412.8 L306.9,411.9 L306.7,410.8 L306.3,409.5 L306.0,408.2 L305.8,407.1 L305.8,406.2 L306.1,405.7 L306.6,405.6 L307.5,405.8 L308.5,406.3 L309.7,407.0 L310.8,407.7 L311.9,408.2 L312.7,408.4 L313.3,408.3 L313.5,407.8 L313.5,406.9 L313.3,405.8 L313.0,404.5 L312.7,403.2 L312.5,402.1 L312.5,401.2 L312.7,400.7 L313.3,400.6 L314.1,400.8 L315.2,401.3 L316.3,402.0 L317.5,402.7 L318.5,403.2 L319.4,403.4 L319.9,403.3 L320.2,402.8 L320.2,401.9 L320.0,400.8 L319.7,399.5 L319.3,398.2 L319.1,397.1 L319.1,396.2 L319.4,395.7 L320.0,395.6 L320.8,395.8 L321.8,396.3 L323.0,397.0" fill="none" stroke="#d0902c" stroke-width="4.35" stroke-linejoin="round"/>
<path d="M318.1,386.7 C325,386 333,387 333,391 C332,396 330,400 328,404" fill="none" stroke="#2270b6" stroke-width="1"/>
<path d="M367.8,403.5 C372,404 380,405 384,407.5" fill="none" stroke="#2270b6" stroke-width="1"/>
<path d="M314,419.6 C312,425 316,430 322,428" fill="none" stroke="#2270b6" stroke-width="1"/>
<path d="M355,427 C354,435 360,440 366,438 C370,434 368,428 366,426" fill="none" stroke="#2270b6" stroke-width="1"/>
<path d="M367,426 C372,428 378,428 384,426" fill="none" stroke="#2270b6" stroke-width="1"/>
<path d="M345,404 C350,400 356,401 360,404" fill="none" stroke="#2270b6" stroke-width="1"/>
<path d="M354.0,395.0 L353.4,396.2 L352.9,397.2 L352.7,398.0 L352.8,398.5 L353.3,398.8 L354.1,398.7 L355.2,398.4 L356.5,398.0 L357.8,397.6 L358.9,397.3 L359.7,397.2 L360.2,397.5 L360.3,398.0 L360.1,398.8 L359.6,399.8 L359.0,401.0 L358.4,402.2 L357.9,403.2 L357.7,404.0 L357.8,404.5 L358.3,404.8 L359.1,404.7 L360.2,404.4 L361.5,404.0 L362.8,403.6 L363.9,403.3 L364.7,403.2 L365.2,403.5 L365.3,404.0 L365.1,404.8 L364.6,405.8 L364.0,407.0 L363.4,408.2 L362.9,409.2 L362.7,410.0 L362.8,410.5 L363.3,410.8 L364.1,410.7 L365.2,410.4 L366.5,410.0 L367.8,409.6 L368.9,409.3 L369.7,409.2 L370.2,409.5 L370.3,410.0 L370.1,410.8 L369.6,411.8 L369.0,413.0" fill="none" stroke="#2270b6" stroke-width="4.06" stroke-linejoin="round"/>
<path d="M377.0,408.0 L376.0,408.7 L375.2,409.3 L374.6,409.9 L374.5,410.3 L374.9,410.6 L375.6,410.8 L376.6,410.9 L377.8,411.0 L379.0,411.1 L380.1,411.2 L380.8,411.4 L381.1,411.7 L381.0,412.1 L380.5,412.7 L379.7,413.3 L378.7,414.0 L377.7,414.7 L376.8,415.3 L376.3,415.9 L376.2,416.3 L376.5,416.6 L377.2,416.8 L378.3,416.9 L379.5,417.0 L380.7,417.1 L381.8,417.2 L382.5,417.4 L382.8,417.7 L382.7,418.1 L382.2,418.7 L381.3,419.3 L380.3,420.0 L379.3,420.7 L378.5,421.3 L378.0,421.9 L377.9,422.3 L378.2,422.6 L378.9,422.8 L380.0,422.9 L381.2,423.0 L382.4,423.1 L383.4,423.2 L384.1,423.4 L384.5,423.7 L384.4,424.1 L383.8,424.7 L383.0,425.3 L382.0,426.0" fill="none" stroke="#2270b6" stroke-width="4.06" stroke-linejoin="round"/>
<polygon points="323,424 338,408 365,413 365,427.5 322,427.5" fill="#2270b6" fill-opacity="0.85"/>
<line x1="322" y1="425" x2="342" y2="397.4" stroke="#2270b6" stroke-width="4.06" stroke-linecap="butt"/>
<line x1="322" y1="426" x2="365" y2="427" stroke="#2270b6" stroke-width="4.35" stroke-linecap="butt"/>
<line x1="338" y1="418" x2="365" y2="414" stroke="#2270b6" stroke-width="4.35" stroke-linecap="butt"/>
<line x1="333" y1="420" x2="360" y2="410" stroke="#2270b6" stroke-width="4.06" stroke-linecap="butt"/>
<line x1="326" y1="410" x2="331" y2="400" stroke="#2270b6" stroke-width="3.77" stroke-linecap="butt"/>
<line x1="326" y1="423.5" x2="344" y2="402.5" stroke="#cfe0f0" stroke-width="0.7"/>
<line x1="336" y1="417" x2="364" y2="411.5" stroke="#cfe0f0" stroke-width="0.7"/>
<line x1="330" y1="421.5" x2="364" y2="419.5" stroke="#cfe0f0" stroke-width="0.7"/>
<path d="M339.0,431.0 L338.6,432.0 L338.2,432.8 L338.1,433.5 L338.3,433.9 L338.7,434.1 L339.4,434.1 L340.3,433.8 L341.2,433.5 L342.2,433.2 L343.1,432.9 L343.8,432.9 L344.2,433.1 L344.4,433.5 L344.3,434.2 L343.9,435.0 L343.5,436.0 L343.1,437.0 L342.7,437.8 L342.6,438.5 L342.8,438.9 L343.2,439.1 L343.9,439.1 L344.8,438.8 L345.8,438.5 L346.7,438.2 L347.6,437.9 L348.3,437.9 L348.7,438.1 L348.9,438.5 L348.8,439.2 L348.4,440.0 L348.0,441.0" fill="none" stroke="#2270b6" stroke-width="4.35" stroke-linejoin="round"/>
<text x="352.4" y="496.2" font-size="8.8" text-anchor="middle" fill="#404040" font-weight="normal" textLength="85.3" lengthAdjust="spacingAndGlyphs" >UMAG_05927 (0.678)</text>
<text x="352.2" y="506.7" font-size="8.8" text-anchor="middle" fill="#404040" font-weight="normal" textLength="51.4" lengthAdjust="spacingAndGlyphs" >(cluster 605)</text>
<text x="435.6" y="212.2" font-size="12.5" font-weight="bold" fill="#111" stroke="#111" stroke-width="0.35">e</text>
<text x="573.7" y="211.0" font-size="8.8" text-anchor="middle" fill="#404040" font-weight="normal" textLength="132.7" lengthAdjust="spacingAndGlyphs" >Mature protein size (amino acids)</text>
<g stroke="#999" stroke-width="0.9" fill="none">
<polyline points="676.8,235.9 470.5,235.9 470.5,334.5"/>
<line x1="484.8" y1="232.3" x2="484.8" y2="235.9"/>
<line x1="515.9" y1="232.3" x2="515.9" y2="235.9"/>
<line x1="546.9" y1="232.3" x2="546.9" y2="235.9"/>
<line x1="578.0" y1="232.3" x2="578.0" y2="235.9"/>
<line x1="609.0" y1="232.3" x2="609.0" y2="235.9"/>
<line x1="640.0" y1="232.3" x2="640.0" y2="235.9"/>
<line x1="671.1" y1="232.3" x2="671.1" y2="235.9"/>
</g>
<text x="484.4" y="227.3" font-size="8.2" text-anchor="middle" fill="#404040" font-weight="normal" >150</text>
<text x="515.5" y="227.3" font-size="8.2" text-anchor="middle" fill="#404040" font-weight="normal" >200</text>
<text x="546.5" y="227.3" font-size="8.2" text-anchor="middle" fill="#404040" font-weight="normal" >250</text>
<text x="577.6" y="227.3" font-size="8.2" text-anchor="middle" fill="#404040" font-weight="normal" >300</text>
<text x="608.6" y="227.3" font-size="8.2" text-anchor="middle" fill="#404040" font-weight="normal" >350</text>
<text x="639.6" y="227.3" font-size="8.2" text-anchor="middle" fill="#404040" font-weight="normal" >400</text>
<text x="670.7" y="227.3" font-size="8.2" text-anchor="middle" fill="#404040" font-weight="normal" >450</text>
<text x="466.6" y="247.8" font-size="8.3" text-anchor="end" fill="#404040" font-weight="normal" >96</text>
<text x="466.6" y="268.9" font-size="8.3" text-anchor="end" fill="#404040" font-weight="normal" >465</text>
<text x="466.6" y="289.8" font-size="8.3" text-anchor="end" fill="#404040" font-weight="normal" >500</text>
<text x="466.6" y="310.3" font-size="8.3" text-anchor="end" fill="#404040" font-weight="normal" >605</text>
<text x="466.6" y="331.2" font-size="8.3" text-anchor="end" fill="#404040" font-weight="normal" >671</text>
<text transform="translate(445,285) rotate(-90)" font-size="9" text-anchor="middle" fill="#404040">Cluster</text>
<circle cx="479.5" cy="244.8" r="3.9" fill="#e8488a" fill-opacity="0.8"/>
<circle cx="482.9" cy="244.8" r="3.9" fill="#e8488a" fill-opacity="0.8"/>
<circle cx="486.4" cy="244.8" r="3.9" fill="#e8488a" fill-opacity="0.8"/>
<circle cx="489.9" cy="244.8" r="3.9" fill="#e8488a" fill-opacity="0.8"/>
<circle cx="493.3" cy="244.8" r="3.9" fill="#e8488a" fill-opacity="0.8"/>
<circle cx="496.8" cy="244.8" r="3.9" fill="#e8488a" fill-opacity="0.8"/>
<circle cx="500.2" cy="244.8" r="3.9" fill="#e8488a" fill-opacity="0.8"/>
<circle cx="503.6" cy="244.8" r="3.9" fill="#e8488a" fill-opacity="0.8"/>
<circle cx="507.1" cy="244.8" r="3.9" fill="#e8488a" fill-opacity="0.8"/>
<circle cx="510.6" cy="244.8" r="3.9" fill="#e8488a" fill-opacity="0.8"/>
<circle cx="514.0" cy="244.8" r="3.9" fill="#e8488a" fill-opacity="0.8"/>
<circle cx="517.5" cy="244.8" r="3.9" fill="#e8488a" fill-opacity="0.8"/>
<circle cx="532.6" cy="244.8" r="3.9" fill="#e8488a" fill-opacity="0.8"/>
<circle cx="560.7" cy="244.8" r="3.9" fill="#e8488a" fill-opacity="0.8"/>
<circle cx="565.0" cy="265.9" r="3.9" fill="#f7cf55" fill-opacity="0.8"/>
<circle cx="604.7" cy="265.9" r="3.9" fill="#f7cf55" fill-opacity="0.8"/>
<circle cx="610.4" cy="265.9" r="3.9" fill="#f7cf55" fill-opacity="0.8"/>
<circle cx="657.0" cy="265.9" r="3.9" fill="#f7cf55" fill-opacity="0.8"/>
<circle cx="661.5" cy="265.9" r="3.9" fill="#f7cf55" fill-opacity="0.8"/>
<circle cx="556.2" cy="286.8" r="3.9" fill="#6fb683" fill-opacity="0.8"/>
<circle cx="561.0" cy="286.8" r="3.9" fill="#6fb683" fill-opacity="0.8"/>
<circle cx="582.8" cy="286.8" r="3.9" fill="#6fb683" fill-opacity="0.8"/>
<circle cx="585.9" cy="286.8" r="3.9" fill="#6fb683" fill-opacity="0.8"/>
<circle cx="582.4" cy="307.3" r="3.9" fill="#6e9dd6" fill-opacity="0.8"/>
<circle cx="610.0" cy="307.3" r="3.9" fill="#6e9dd6" fill-opacity="0.8"/>
<circle cx="619.2" cy="307.3" r="3.9" fill="#6e9dd6" fill-opacity="0.8"/>
<circle cx="556.2" cy="328.2" r="3.9" fill="#8e3a8e" fill-opacity="0.8"/>
<circle cx="558.9" cy="328.2" r="3.9" fill="#8e3a8e" fill-opacity="0.8"/>
<circle cx="572.0" cy="328.2" r="3.9" fill="#8e3a8e" fill-opacity="0.8"/>
<rect x="434.7" y="364.2" width="250.3" height="121.3" fill="#f2f4f4"/>
<text x="436.6" y="377.6" font-size="12.5" font-weight="bold" fill="#111" stroke="#111" stroke-width="0.35">f</text>
<text x="559.8" y="376.5" font-size="8.8" text-anchor="middle" fill="#404040" font-weight="normal" textLength="90.2" lengthAdjust="spacingAndGlyphs" >Duplication and fusion</text>
<text x="562.4" y="430.3" font-size="8.8" text-anchor="middle" fill="#404040" font-weight="normal" textLength="109.4" lengthAdjust="spacingAndGlyphs" >Duplication and disordered</text>
<text x="562.3" y="440.4" font-size="8.8" text-anchor="middle" fill="#404040" font-weight="normal" textLength="115.6" lengthAdjust="spacingAndGlyphs" >region extention/contraction</text>
<line x1="515.8" y1="404.3" x2="608.5" y2="404.3" stroke="#333" stroke-width="0.8"/>
<rect x="527.7" y="398.3" width="12" height="11.8" fill="#1f72b9" stroke="#333" stroke-width="0.7"/>
<rect x="572.7" y="398.4" width="10.8" height="11.8" fill="#f5a93d" stroke="#333" stroke-width="0.7"/>
<rect x="583.5" y="398.4" width="11.4" height="11.8" fill="#1f72b9" stroke="#333" stroke-width="0.7"/>
<line x1="499.3" y1="470.3" x2="624.9" y2="470.3" stroke="#333" stroke-width="0.8"/>
<rect x="502.1" y="464.5" width="18.0" height="11.9" fill="#f5a93d" stroke="#333" stroke-width="0.7"/>
<rect x="520.1" y="464.5" width="11.8" height="11.9" fill="#1f72b9" stroke="#333" stroke-width="0.7"/>
<rect x="553.4" y="464.5" width="10.8" height="11.9" fill="#f5a93d" stroke="#333" stroke-width="0.7"/>
<rect x="564.2" y="464.5" width="11.4" height="11.9" fill="#1f72b9" stroke="#333" stroke-width="0.7"/>
<rect x="604.2" y="464.5" width="5.9" height="11.9" fill="#f5a93d" stroke="#333" stroke-width="0.7"/>
<rect x="610.1" y="464.5" width="9.3" height="11.9" fill="#1f72b9" stroke="#333" stroke-width="0.7"/>
<g fill="none" stroke="#111" stroke-width="0.8">
<path d="M537.2,391 Q560,372 583.3,391.3" marker-end="url(#ah)"/>
<path d="M559.9,457.5 Q536.5,437.3 513.6,457.3" marker-end="url(#ah)"/>
<path d="M564.2,457.5 Q587.5,437.5 610.8,457.3" marker-end="url(#ah)"/>
</g>
<text x="-0.3" y="538.0" font-size="12.5" font-weight="bold" fill="#111" stroke="#111" stroke-width="0.35">g</text>
<text x="272.3" y="538.6" font-size="12.5" font-weight="bold" fill="#111" stroke="#111" stroke-width="0.35">h</text>
<rect x="41.5" y="536.2" width="100.3" height="85.2" fill="none" stroke="#b3b3b3" stroke-width="0.9"/>
<polyline points="49.3,602.3 61.0,599.3 72.8,568.8 85.1,538.4 97.3,581.0 109.5,591.2 121.8,593.2 133.7,599.3" fill="none" stroke="#b9b9b9" stroke-width="1.5" stroke-linejoin="round"/>
<polyline points="49.3,603.3 61.0,591.2 72.8,566.8 85.1,550.6 97.3,595.2 109.5,598.3 121.8,599.3 133.7,560.7" fill="none" stroke="#b9b9b9" stroke-width="1.5" stroke-linejoin="round"/>
<polyline points="49.3,612.5 61.0,603.3 72.8,589.1 85.1,554.6 97.3,601.3 109.5,602.3 121.8,597.2 133.7,577.0" fill="none" stroke="#b9b9b9" stroke-width="1.5" stroke-linejoin="round"/>
<polyline points="49.3,605.4 61.0,600.3 72.8,577.0 85.1,546.5 97.3,589.1 109.5,595.2 121.8,596.2 133.7,601.3" fill="none" stroke="#b9b9b9" stroke-width="1.5" stroke-linejoin="round"/>
<polyline points="49.3,601.3 61.0,598.3 72.8,599.3 85.1,542.4 97.3,597.2 109.5,599.3 121.8,598.3 133.7,597.2" fill="none" stroke="#b9b9b9" stroke-width="1.5" stroke-linejoin="round"/>
<polyline points="49.3,604.4 61.0,597.2 72.8,581.0 85.1,548.5 97.3,593.2 109.5,592.2 121.8,594.2 133.7,598.3" fill="none" stroke="#b9b9b9" stroke-width="1.5" stroke-linejoin="round"/>
<polyline points="49.3,606.4 61.0,601.3 72.8,593.2 85.1,552.6 97.3,602.3 109.5,598.3 121.8,599.3 133.7,600.3" fill="none" stroke="#b9b9b9" stroke-width="1.5" stroke-linejoin="round"/>
<polyline points="49.3,603.3 61.0,602.3 72.8,599.3 85.1,540.4 97.3,586.1 109.5,596.2 121.8,597.2 133.7,596.2" fill="none" stroke="#b9b9b9" stroke-width="1.5" stroke-linejoin="round"/>
<polyline points="49.3,603.1 61.0,598.7 72.8,585.5 85.1,543.7 97.3,592.2 109.5,596.8 121.8,597.5 133.7,592.8" fill="none" stroke="#e5283c" stroke-width="1.9" stroke-linejoin="round"/>
<text x="97.0" y="547.3" font-size="8.8" text-anchor="start" fill="#404040" font-weight="normal" textLength="41.9" lengthAdjust="spacingAndGlyphs" >Cluster 96</text>
<rect x="98.2" y="551.3" width="7.4" height="6.8" fill="#ee7d5b" stroke="#333" stroke-width="0.7"/>
<rect x="105.6" y="551.3" width="7.4" height="6.8" fill="#ee7d5b" stroke="#333" stroke-width="0.7"/>
<rect x="113.0" y="551.3" width="7.4" height="6.8" fill="#f2dc84" stroke="#333" stroke-width="0.7"/>
<rect x="120.4" y="551.3" width="7.4" height="6.8" fill="#f2dc84" stroke="#333" stroke-width="0.7"/>
<rect x="127.8" y="551.3" width="7.4" height="6.8" fill="#f2dc84" stroke="#333" stroke-width="0.7"/>
<rect x="98.2" y="561.1" width="7.4" height="6.8" fill="#f2dc84" stroke="#333" stroke-width="0.7"/>
<rect x="105.6" y="561.1" width="7.4" height="6.8" fill="#f2dc84" stroke="#333" stroke-width="0.7"/>
<rect x="113.0" y="561.1" width="7.4" height="6.8" fill="#d99cc8" stroke="#333" stroke-width="0.7"/>
<rect x="120.4" y="561.1" width="7.4" height="6.8" fill="#d99cc8" stroke="#333" stroke-width="0.7"/>
<rect x="127.8" y="561.1" width="7.4" height="6.8" fill="#8c3891" stroke="#333" stroke-width="0.7"/>
<line x1="37.7" y1="546.5" x2="41.5" y2="546.5" stroke="#999" stroke-width="0.8"/>
<text x="34.2" y="549.2" font-size="7.6" text-anchor="end" fill="#404040" font-weight="normal" >2</text>
<line x1="37.7" y1="566.8" x2="41.5" y2="566.8" stroke="#999" stroke-width="0.8"/>
<text x="34.2" y="569.5" font-size="7.6" text-anchor="end" fill="#404040" font-weight="normal" >1</text>
<line x1="37.7" y1="587.1" x2="41.5" y2="587.1" stroke="#999" stroke-width="0.8"/>
<text x="34.2" y="589.8" font-size="7.6" text-anchor="end" fill="#404040" font-weight="normal" >0</text>
<line x1="37.7" y1="607.4" x2="41.5" y2="607.4" stroke="#999" stroke-width="0.8"/>
<text x="34.2" y="610.1" font-size="7.6" text-anchor="end" fill="#404040" font-weight="normal" >-1</text>
<text transform="translate(19.2,577.7) rotate(-90)" font-size="8.8" text-anchor="middle" fill="#404040">Z scores</text>
<rect x="149.3" y="536.2" width="100.3" height="85.2" fill="none" stroke="#b3b3b3" stroke-width="0.9"/>
<polyline points="157.1,605.4 168.8,599.3 180.6,605.4 192.9,546.5 205.1,568.8 217.3,589.1 229.6,593.2 241.5,599.3" fill="none" stroke="#b9b9b9" stroke-width="1.5" stroke-linejoin="round"/>
<polyline points="157.1,615.5 168.8,603.3 180.6,602.3 192.9,562.7 205.1,550.6 217.3,581.0 229.6,589.1 241.5,597.2" fill="none" stroke="#b9b9b9" stroke-width="1.5" stroke-linejoin="round"/>
<polyline points="157.1,603.3 168.8,605.4 180.6,599.3 192.9,556.6 205.1,577.0 217.3,561.3 229.6,581.0 241.5,574.9" fill="none" stroke="#b9b9b9" stroke-width="1.5" stroke-linejoin="round"/>
<polyline points="157.1,604.4 168.8,604.4 180.6,605.4 192.9,552.6 205.1,556.6 217.3,593.2 229.6,595.2 241.5,595.2" fill="none" stroke="#b9b9b9" stroke-width="1.5" stroke-linejoin="round"/>
<polyline points="157.1,607.4 168.8,606.4 180.6,606.4 192.9,566.8 205.1,558.7 217.3,587.1 229.6,587.1 241.5,597.2" fill="none" stroke="#b9b9b9" stroke-width="1.5" stroke-linejoin="round"/>
<polyline points="157.1,602.3 168.8,602.3 180.6,601.3 192.9,554.6 205.1,583.0 217.3,585.1 229.6,591.2 241.5,598.3" fill="none" stroke="#b9b9b9" stroke-width="1.5" stroke-linejoin="round"/>
<polyline points="157.1,605.4 168.8,601.3 180.6,597.2 192.9,548.5 205.1,552.6 217.3,587.1 229.6,593.2 241.5,599.3" fill="none" stroke="#b9b9b9" stroke-width="1.5" stroke-linejoin="round"/>
<polyline points="157.1,607.2 168.8,604.4 180.6,603.3 192.9,558.1 205.1,564.0 217.3,584.3 229.6,591.8 241.5,597.0" fill="none" stroke="#e5283c" stroke-width="1.9" stroke-linejoin="round"/>
<text x="152.0" y="547.8" font-size="8.8" text-anchor="start" fill="#404040" font-weight="normal" textLength="41.9" lengthAdjust="spacingAndGlyphs" >Cluster 96</text>
<rect x="152.8" y="551.6" width="7.4" height="6.8" fill="#ee7d5b" stroke="#333" stroke-width="0.7"/>
<rect x="160.2" y="551.6" width="7.4" height="6.8" fill="#ee7d5b" stroke="#333" stroke-width="0.7"/>
<rect x="167.6" y="551.6" width="7.4" height="6.8" fill="#f2dc84" stroke="#333" stroke-width="0.7"/>
<rect x="175.0" y="551.6" width="7.4" height="6.8" fill="#f2dc84" stroke="#333" stroke-width="0.7"/>
<rect x="182.4" y="551.6" width="7.4" height="6.8" fill="#96cdb0" stroke="#333" stroke-width="0.7"/>
<rect x="152.8" y="561.3" width="7.4" height="6.8" fill="#17a2b3" stroke="#333" stroke-width="0.7"/>
<rect x="160.2" y="561.3" width="7.4" height="6.8" fill="#8c3891" stroke="#333" stroke-width="0.7"/>
<rect x="40.4" y="629.6" width="100.3" height="85.7" fill="none" stroke="#b3b3b3" stroke-width="0.9"/>
<polyline points="48.2,697.2 59.9,697.2 71.7,698.2 84.0,672.0 96.2,639.9 108.4,652.9 120.7,664.0 132.6,673.0" fill="none" stroke="#b9b9b9" stroke-width="1.5" stroke-linejoin="round"/>
<polyline points="48.2,698.2 59.9,698.2 71.7,699.2 84.0,678.1 96.2,643.9 108.4,651.9 120.7,662.0 132.6,676.1" fill="none" stroke="#b9b9b9" stroke-width="1.5" stroke-linejoin="round"/>
<polyline points="48.2,699.2 59.9,700.2 71.7,698.2 84.0,682.1 96.2,645.9 108.4,660.0 120.7,666.0 132.6,678.1" fill="none" stroke="#b9b9b9" stroke-width="1.5" stroke-linejoin="round"/>
<polyline points="48.2,701.2 59.9,699.2 71.7,700.2 84.0,686.1 96.2,647.9 108.4,666.0 120.7,668.0 132.6,680.1" fill="none" stroke="#b9b9b9" stroke-width="1.5" stroke-linejoin="round"/>
<polyline points="48.2,702.2 59.9,701.2 71.7,701.2 84.0,690.1 96.2,649.9 108.4,670.0 120.7,674.1 132.6,684.1" fill="none" stroke="#b9b9b9" stroke-width="1.5" stroke-linejoin="round"/>
<polyline points="48.2,704.2 59.9,702.2 71.7,702.2 84.0,694.1 96.2,651.9 108.4,676.1 120.7,670.0 132.6,686.1" fill="none" stroke="#b9b9b9" stroke-width="1.5" stroke-linejoin="round"/>
<polyline points="48.2,706.2 59.9,703.2 71.7,702.2 84.0,696.2 96.2,654.0 108.4,664.0 120.7,678.1 132.6,688.1" fill="none" stroke="#b9b9b9" stroke-width="1.5" stroke-linejoin="round"/>
<polyline points="48.2,708.2 59.9,704.2 71.7,703.2 84.0,697.2 96.2,657.0 108.4,668.0 120.7,682.1 132.6,690.1" fill="none" stroke="#b9b9b9" stroke-width="1.5" stroke-linejoin="round"/>
<polyline points="48.2,710.2 59.9,705.2 71.7,703.2 84.0,698.2 96.2,658.6 108.4,658.0 120.7,672.0 132.6,692.1" fill="none" stroke="#b9b9b9" stroke-width="1.5" stroke-linejoin="round"/>
<polyline points="48.2,710.8 59.9,706.2 71.7,704.2 84.0,694.1 96.2,655.0 108.4,672.0 120.7,682.9 132.6,682.1" fill="none" stroke="#b9b9b9" stroke-width="1.5" stroke-linejoin="round"/>
<polyline points="48.2,700.2 59.9,698.2 71.7,698.2 84.0,676.1 96.2,641.9 108.4,656.0 120.7,665.0 132.6,675.1" fill="none" stroke="#b9b9b9" stroke-width="1.5" stroke-linejoin="round"/>
<polyline points="48.2,703.2 59.9,702.2 71.7,701.2 84.0,688.1 96.2,651.9 108.4,674.1 120.7,676.1 132.6,691.1" fill="none" stroke="#b9b9b9" stroke-width="1.5" stroke-linejoin="round"/>
<polyline points="48.2,702.4 59.9,701.2 71.7,699.8 84.0,685.9 96.2,648.1 108.4,666.4 120.7,671.4 132.6,683.1" fill="none" stroke="#e5283c" stroke-width="1.9" stroke-linejoin="round"/>
<text x="42.7" y="641.5" font-size="8.8" text-anchor="start" fill="#404040" font-weight="normal" textLength="41.9" lengthAdjust="spacingAndGlyphs" >Cluster 96</text>
<rect x="42.7" y="646.1" width="7.4" height="6.8" fill="#ee7d5b" stroke="#333" stroke-width="0.7"/>
<rect x="50.1" y="646.1" width="7.4" height="6.8" fill="#f2dc84" stroke="#333" stroke-width="0.7"/>
<rect x="57.5" y="646.1" width="7.4" height="6.8" fill="#f2dc84" stroke="#333" stroke-width="0.7"/>
<rect x="64.9" y="646.1" width="7.4" height="6.8" fill="#96cdb0" stroke="#333" stroke-width="0.7"/>
<rect x="72.3" y="646.1" width="7.4" height="6.8" fill="#96cdb0" stroke="#333" stroke-width="0.7"/>
<rect x="42.7" y="655.8" width="7.4" height="6.8" fill="#17a2b3" stroke="#333" stroke-width="0.7"/>
<rect x="50.1" y="655.8" width="7.4" height="6.8" fill="#17a2b3" stroke="#333" stroke-width="0.7"/>
<rect x="57.5" y="655.8" width="7.4" height="6.8" fill="#d99cc8" stroke="#333" stroke-width="0.7"/>
<rect x="64.9" y="655.8" width="7.4" height="6.8" fill="#d99cc8" stroke="#333" stroke-width="0.7"/>
<rect x="72.3" y="655.8" width="7.4" height="6.8" fill="#8c3891" stroke="#333" stroke-width="0.7"/>
<rect x="79.7" y="655.8" width="7.4" height="6.8" fill="#8c3891" stroke="#333" stroke-width="0.7"/>
<line x1="36.6" y1="643.9" x2="40.4" y2="643.9" stroke="#999" stroke-width="0.8"/>
<text x="33.1" y="646.6" font-size="7.6" text-anchor="end" fill="#404040" font-weight="normal" >2</text>
<line x1="36.6" y1="664.0" x2="40.4" y2="664.0" stroke="#999" stroke-width="0.8"/>
<text x="33.1" y="666.7" font-size="7.6" text-anchor="end" fill="#404040" font-weight="normal" >1</text>
<line x1="36.6" y1="684.1" x2="40.4" y2="684.1" stroke="#999" stroke-width="0.8"/>
<text x="33.1" y="686.8" font-size="7.6" text-anchor="end" fill="#404040" font-weight="normal" >0</text>
<line x1="36.6" y1="704.2" x2="40.4" y2="704.2" stroke="#999" stroke-width="0.8"/>
<text x="33.1" y="706.9" font-size="7.6" text-anchor="end" fill="#404040" font-weight="normal" >-1</text>
<text transform="translate(18.1,671.1) rotate(-90)" font-size="8.8" text-anchor="middle" fill="#404040">Z scores</text>
<line x1="56.3" y1="715.3000000000001" x2="56.3" y2="718.9" stroke="#999" stroke-width="0.8"/>
<text x="56.3" y="728.7" font-size="7.7" text-anchor="middle" fill="#404040" font-weight="normal" >0.5</text>
<line x1="70.7" y1="715.3000000000001" x2="70.7" y2="718.9" stroke="#999" stroke-width="0.8"/>
<text x="70.7" y="728.7" font-size="7.7" text-anchor="middle" fill="#404040" font-weight="normal" >1</text>
<line x1="83.3" y1="715.3000000000001" x2="83.3" y2="718.9" stroke="#999" stroke-width="0.8"/>
<text x="83.3" y="728.7" font-size="7.7" text-anchor="middle" fill="#404040" font-weight="normal" >2</text>
<line x1="95.6" y1="715.3000000000001" x2="95.6" y2="718.9" stroke="#999" stroke-width="0.8"/>
<text x="95.6" y="728.7" font-size="7.7" text-anchor="middle" fill="#404040" font-weight="normal" >4</text>
<line x1="107.6" y1="715.3000000000001" x2="107.6" y2="718.9" stroke="#999" stroke-width="0.8"/>
<text x="107.6" y="728.7" font-size="7.7" text-anchor="middle" fill="#404040" font-weight="normal" >6</text>
<line x1="119.9" y1="715.3000000000001" x2="119.9" y2="718.9" stroke="#999" stroke-width="0.8"/>
<text x="119.9" y="728.7" font-size="7.7" text-anchor="middle" fill="#404040" font-weight="normal" >8</text>
<line x1="132.0" y1="715.3000000000001" x2="132.0" y2="718.9" stroke="#999" stroke-width="0.8"/>
<text x="132.0" y="728.7" font-size="7.7" text-anchor="middle" fill="#404040" font-weight="normal" >12</text>
<text transform="translate(48.7,724.8) rotate(-45)" font-size="7.7" text-anchor="end" fill="#404040">Axenic</text>
<text x="88.8" y="755.9" font-size="8.8" text-anchor="middle" fill="#404040" font-weight="normal" textLength="76.8" lengthAdjust="spacingAndGlyphs" >Days post-infection</text>
<rect x="147.9" y="629.4" width="100.3" height="85.8" fill="none" stroke="#b3b3b3" stroke-width="0.9"/>
<polyline points="155.7,699.2 167.4,699.2 179.2,699.2 191.5,693.1 203.7,675.1 215.9,673.0 228.2,641.9 240.1,666.0" fill="none" stroke="#b9b9b9" stroke-width="1.5" stroke-linejoin="round"/>
<polyline points="155.7,702.2 167.4,702.2 179.2,701.2 191.5,698.2 203.7,682.1 215.9,673.0 228.2,651.9 240.1,662.0" fill="none" stroke="#b9b9b9" stroke-width="1.5" stroke-linejoin="round"/>
<polyline points="155.7,700.4 167.4,700.4 179.2,700.0 191.5,695.6 203.7,679.1 215.9,673.0 228.2,646.9 240.1,663.4" fill="none" stroke="#e5283c" stroke-width="1.9" stroke-linejoin="round"/>
<text x="151.3" y="641.1" font-size="8.8" text-anchor="start" fill="#404040" font-weight="normal" textLength="41.9" lengthAdjust="spacingAndGlyphs" >Cluster 96</text>
<rect x="151.9" y="651.2" width="7.4" height="6.8" fill="#ee7d5b" stroke="#333" stroke-width="0.7"/>
<rect x="159.3" y="651.2" width="7.4" height="6.8" fill="#d99cc8" stroke="#333" stroke-width="0.7"/>
<rect x="166.7" y="651.2" width="7.4" height="6.8" fill="#8c3891" stroke="#333" stroke-width="0.7"/>
<line x1="166.1" y1="715.1999999999999" x2="166.1" y2="718.8" stroke="#999" stroke-width="0.8"/>
<text x="166.1" y="728.7" font-size="7.7" text-anchor="middle" fill="#404040" font-weight="normal" >0.5</text>
<line x1="178.2" y1="715.1999999999999" x2="178.2" y2="718.8" stroke="#999" stroke-width="0.8"/>
<text x="178.2" y="728.7" font-size="7.7" text-anchor="middle" fill="#404040" font-weight="normal" >1</text>
<line x1="190.8" y1="715.1999999999999" x2="190.8" y2="718.8" stroke="#999" stroke-width="0.8"/>
<text x="190.8" y="728.7" font-size="7.7" text-anchor="middle" fill="#404040" font-weight="normal" >2</text>
<line x1="203.1" y1="715.1999999999999" x2="203.1" y2="718.8" stroke="#999" stroke-width="0.8"/>
<text x="203.1" y="728.7" font-size="7.7" text-anchor="middle" fill="#404040" font-weight="normal" >4</text>
<line x1="215.1" y1="715.1999999999999" x2="215.1" y2="718.8" stroke="#999" stroke-width="0.8"/>
<text x="215.1" y="728.7" font-size="7.7" text-anchor="middle" fill="#404040" font-weight="normal" >6</text>
<line x1="227.4" y1="715.1999999999999" x2="227.4" y2="718.8" stroke="#999" stroke-width="0.8"/>
<text x="227.4" y="728.7" font-size="7.7" text-anchor="middle" fill="#404040" font-weight="normal" >8</text>
<line x1="239.5" y1="715.1999999999999" x2="239.5" y2="718.8" stroke="#999" stroke-width="0.8"/>
<text x="239.5" y="728.7" font-size="7.7" text-anchor="middle" fill="#404040" font-weight="normal" >12</text>
<text transform="translate(156.2,724.8) rotate(-45)" font-size="7.7" text-anchor="end" fill="#404040">Axenic</text>
<text x="196.2" y="755.9" font-size="8.8" text-anchor="middle" fill="#404040" font-weight="normal" textLength="76.8" lengthAdjust="spacingAndGlyphs" >Days post-infection</text>
<rect x="304.6" y="536.2" width="100.2" height="85.2" fill="none" stroke="#b3b3b3" stroke-width="0.9"/>
<polyline points="312.4,600.5 324.1,597.5 335.9,585.5 348.2,540.3 360.4,567.4 372.6,585.5 384.9,586.5 396.8,589.5" fill="none" stroke="#b9b9b9" stroke-width="1.5" stroke-linejoin="round"/>
<polyline points="312.4,610.6 324.1,606.6 335.9,596.5 348.2,552.4 360.4,588.5 372.6,597.5 384.9,599.5 396.8,602.5" fill="none" stroke="#b9b9b9" stroke-width="1.5" stroke-linejoin="round"/>
<polyline points="312.4,613.6 324.1,611.6 335.9,600.5 348.2,547.3 360.4,580.5 372.6,594.5 384.9,601.5 396.8,602.5" fill="none" stroke="#b9b9b9" stroke-width="1.5" stroke-linejoin="round"/>
<polyline points="312.4,605.5 324.1,602.5 335.9,587.5 348.2,543.3 360.4,571.4 372.6,587.5 384.9,597.5 396.8,603.5" fill="none" stroke="#b9b9b9" stroke-width="1.5" stroke-linejoin="round"/>
<polyline points="312.4,608.6 324.1,603.5 335.9,593.5 348.2,551.4 360.4,578.5 372.6,582.5 384.9,592.5 396.8,596.5" fill="none" stroke="#b9b9b9" stroke-width="1.5" stroke-linejoin="round"/>
<polyline points="312.4,607.6 324.1,604.3 335.9,592.7 348.2,547.1 360.4,575.8 372.6,590.1 384.9,594.9 396.8,597.9" fill="none" stroke="#e5283c" stroke-width="1.9" stroke-linejoin="round"/>
<text x="355.0" y="546.7" font-size="8.8" text-anchor="start" fill="#404040" font-weight="normal" textLength="46.3" lengthAdjust="spacingAndGlyphs" >Cluster 465</text>
<line x1="300.8" y1="551.4" x2="304.6" y2="551.4" stroke="#999" stroke-width="0.8"/>
<text x="297.3" y="554.1" font-size="7.6" text-anchor="end" fill="#404040" font-weight="normal" >2</text>
<line x1="300.8" y1="571.4" x2="304.6" y2="571.4" stroke="#999" stroke-width="0.8"/>
<text x="297.3" y="574.1" font-size="7.6" text-anchor="end" fill="#404040" font-weight="normal" >1</text>
<line x1="300.8" y1="591.5" x2="304.6" y2="591.5" stroke="#999" stroke-width="0.8"/>
<text x="297.3" y="594.2" font-size="7.6" text-anchor="end" fill="#404040" font-weight="normal" >0</text>
<line x1="300.8" y1="611.6" x2="304.6" y2="611.6" stroke="#999" stroke-width="0.8"/>
<text x="297.3" y="614.3" font-size="7.6" text-anchor="end" fill="#404040" font-weight="normal" >-1</text>
<text transform="translate(282.3,577.7) rotate(-90)" font-size="8.8" text-anchor="middle" fill="#404040">Z scores</text>
<rect x="412.3" y="536.2" width="100.1" height="84.8" fill="none" stroke="#b3b3b3" stroke-width="0.9"/>
<polyline points="420.1,608.6 431.8,608.6 443.6,608.6 455.9,592.5 468.1,566.4 480.3,565.4 492.6,565.4 504.5,582.5" fill="none" stroke="#b9b9b9" stroke-width="1.5" stroke-linejoin="round"/>
<polyline points="420.1,607.6 431.8,607.6 443.6,607.6 455.9,597.5 468.1,567.4 480.3,570.4 492.6,567.4 504.5,575.4" fill="none" stroke="#b9b9b9" stroke-width="1.5" stroke-linejoin="round"/>
<polyline points="420.1,609.6 431.8,609.6 443.6,609.6 455.9,606.6 468.1,577.5 480.3,562.4 492.6,567.4 504.5,585.5" fill="none" stroke="#b9b9b9" stroke-width="1.5" stroke-linejoin="round"/>
<polyline points="420.1,609.0 431.8,609.0 443.6,608.2 455.9,600.9 468.1,572.0 480.3,565.2 492.6,564.8 504.5,581.1" fill="none" stroke="#e5283c" stroke-width="1.9" stroke-linejoin="round"/>
<text x="414.8" y="547.3" font-size="8.8" text-anchor="start" fill="#404040" font-weight="normal" textLength="47.7" lengthAdjust="spacingAndGlyphs" >Cluster 500</text>
<rect x="304.6" y="629.5" width="100.1" height="85.8" fill="none" stroke="#b3b3b3" stroke-width="0.9"/>
<polyline points="312.4,695.6 324.1,695.6 335.9,695.6 348.2,695.6 360.4,635.3 372.6,679.5 384.9,680.5 396.8,681.5" fill="none" stroke="#b9b9b9" stroke-width="1.5" stroke-linejoin="round"/>
<polyline points="312.4,703.6 324.1,703.6 335.9,700.6 348.2,685.5 360.4,677.5 372.6,645.3 384.9,665.4 396.8,675.5" fill="none" stroke="#b9b9b9" stroke-width="1.5" stroke-linejoin="round"/>
<polyline points="312.4,698.6 324.1,698.6 335.9,698.6 348.2,698.6 360.4,675.5 372.6,652.3 384.9,657.4 396.8,674.5" fill="none" stroke="#b9b9b9" stroke-width="1.5" stroke-linejoin="round"/>
<polyline points="312.4,700.0 324.1,699.6 335.9,698.8 348.2,693.5 360.4,662.8 372.6,659.2 384.9,668.0 396.8,677.3" fill="none" stroke="#e5283c" stroke-width="1.9" stroke-linejoin="round"/>
<text x="308.4" y="640.2" font-size="8.8" text-anchor="start" fill="#404040" font-weight="normal" textLength="47.4" lengthAdjust="spacingAndGlyphs" >Cluster 605</text>
<line x1="300.8" y1="643.3" x2="304.6" y2="643.3" stroke="#999" stroke-width="0.8"/>
<text x="297.3" y="646.0" font-size="7.6" text-anchor="end" fill="#404040" font-weight="normal" >2</text>
<line x1="300.8" y1="663.4" x2="304.6" y2="663.4" stroke="#999" stroke-width="0.8"/>
<text x="297.3" y="666.1" font-size="7.6" text-anchor="end" fill="#404040" font-weight="normal" >1</text>
<line x1="300.8" y1="683.5" x2="304.6" y2="683.5" stroke="#999" stroke-width="0.8"/>
<text x="297.3" y="686.2" font-size="7.6" text-anchor="end" fill="#404040" font-weight="normal" >0</text>
<line x1="300.8" y1="703.6" x2="304.6" y2="703.6" stroke="#999" stroke-width="0.8"/>
<text x="297.3" y="706.3" font-size="7.6" text-anchor="end" fill="#404040" font-weight="normal" >-1</text>
<text transform="translate(282.3,671.0) rotate(-90)" font-size="8.8" text-anchor="middle" fill="#404040">Z scores</text>
<line x1="322.8" y1="715.3" x2="322.8" y2="718.9" stroke="#999" stroke-width="0.8"/>
<text x="322.8" y="728.7" font-size="7.7" text-anchor="middle" fill="#404040" font-weight="normal" >0.5</text>
<line x1="334.9" y1="715.3" x2="334.9" y2="718.9" stroke="#999" stroke-width="0.8"/>
<text x="334.9" y="728.7" font-size="7.7" text-anchor="middle" fill="#404040" font-weight="normal" >1</text>
<line x1="347.5" y1="715.3" x2="347.5" y2="718.9" stroke="#999" stroke-width="0.8"/>
<text x="347.5" y="728.7" font-size="7.7" text-anchor="middle" fill="#404040" font-weight="normal" >2</text>
<line x1="359.8" y1="715.3" x2="359.8" y2="718.9" stroke="#999" stroke-width="0.8"/>
<text x="359.8" y="728.7" font-size="7.7" text-anchor="middle" fill="#404040" font-weight="normal" >4</text>
<line x1="371.8" y1="715.3" x2="371.8" y2="718.9" stroke="#999" stroke-width="0.8"/>
<text x="371.8" y="728.7" font-size="7.7" text-anchor="middle" fill="#404040" font-weight="normal" >6</text>
<line x1="384.1" y1="715.3" x2="384.1" y2="718.9" stroke="#999" stroke-width="0.8"/>
<text x="384.1" y="728.7" font-size="7.7" text-anchor="middle" fill="#404040" font-weight="normal" >8</text>
<line x1="396.2" y1="715.3" x2="396.2" y2="718.9" stroke="#999" stroke-width="0.8"/>
<text x="396.2" y="728.7" font-size="7.7" text-anchor="middle" fill="#404040" font-weight="normal" >12</text>
<text transform="translate(312.9,724.8) rotate(-45)" font-size="7.7" text-anchor="end" fill="#404040">Axenic</text>
<text x="352.9" y="755.9" font-size="8.8" text-anchor="middle" fill="#404040" font-weight="normal" textLength="76.8" lengthAdjust="spacingAndGlyphs" >Days post-infection</text>
<rect x="412.3" y="629.1" width="100.1" height="85.8" fill="none" stroke="#b3b3b3" stroke-width="0.9"/>
<polyline points="420.1,693.5 431.8,692.5 443.6,680.5 455.9,633.2 468.1,683.5 480.3,689.5 492.6,693.1 504.5,693.5" fill="none" stroke="#b9b9b9" stroke-width="1.5" stroke-linejoin="round"/>
<polyline points="420.1,704.6 431.8,704.6 443.6,698.6 455.9,662.0 468.1,651.3 480.3,671.4 492.6,679.5 504.5,690.5" fill="none" stroke="#b9b9b9" stroke-width="1.5" stroke-linejoin="round"/>
<polyline points="420.1,701.6 431.8,697.6 443.6,683.5 455.9,639.3 468.1,672.4 480.3,681.5 492.6,687.5 504.5,695.6" fill="none" stroke="#b9b9b9" stroke-width="1.5" stroke-linejoin="round"/>
<polyline points="420.1,700.8 431.8,697.8 443.6,687.3 455.9,644.7 468.1,669.6 480.3,679.3 492.6,685.9 504.5,693.1" fill="none" stroke="#e5283c" stroke-width="1.9" stroke-linejoin="round"/>
<text x="463.6" y="640.4" font-size="8.8" text-anchor="start" fill="#404040" font-weight="normal" textLength="44.2" lengthAdjust="spacingAndGlyphs" >Cluster 671</text>
<line x1="430.5" y1="714.9" x2="430.5" y2="718.5" stroke="#999" stroke-width="0.8"/>
<text x="430.5" y="728.7" font-size="7.7" text-anchor="middle" fill="#404040" font-weight="normal" >0.5</text>
<line x1="442.6" y1="714.9" x2="442.6" y2="718.5" stroke="#999" stroke-width="0.8"/>
<text x="442.6" y="728.7" font-size="7.7" text-anchor="middle" fill="#404040" font-weight="normal" >1</text>
<line x1="455.2" y1="714.9" x2="455.2" y2="718.5" stroke="#999" stroke-width="0.8"/>
<text x="455.2" y="728.7" font-size="7.7" text-anchor="middle" fill="#404040" font-weight="normal" >2</text>
<line x1="467.5" y1="714.9" x2="467.5" y2="718.5" stroke="#999" stroke-width="0.8"/>
<text x="467.5" y="728.7" font-size="7.7" text-anchor="middle" fill="#404040" font-weight="normal" >4</text>
<line x1="479.5" y1="714.9" x2="479.5" y2="718.5" stroke="#999" stroke-width="0.8"/>
<text x="479.5" y="728.7" font-size="7.7" text-anchor="middle" fill="#404040" font-weight="normal" >6</text>
<line x1="491.8" y1="714.9" x2="491.8" y2="718.5" stroke="#999" stroke-width="0.8"/>
<text x="491.8" y="728.7" font-size="7.7" text-anchor="middle" fill="#404040" font-weight="normal" >8</text>
<line x1="503.9" y1="714.9" x2="503.9" y2="718.5" stroke="#999" stroke-width="0.8"/>
<text x="503.9" y="728.7" font-size="7.7" text-anchor="middle" fill="#404040" font-weight="normal" >12</text>
<text transform="translate(420.6,724.8) rotate(-45)" font-size="7.7" text-anchor="end" fill="#404040">Axenic</text>
<text x="460.6" y="755.9" font-size="8.8" text-anchor="middle" fill="#404040" font-weight="normal" textLength="76.8" lengthAdjust="spacingAndGlyphs" >Days post-infection</text>
<rect x="528.1" y="524.9" width="149.9" height="239.9" fill="#f2f4f4"/>
<text x="531.0" y="539.0" font-size="12.5" font-weight="bold" fill="#111" stroke="#111" stroke-width="0.35">i</text>
<text x="611.3" y="540.4" font-size="8.8" text-anchor="middle" fill="#404040" font-weight="normal" textLength="89.8" lengthAdjust="spacingAndGlyphs" >Functional divergence</text>
<line x1="559" y1="560.4" x2="664.5" y2="560.4" stroke="#333" stroke-width="0.8"/>
<rect x="562.9" y="554.7" width="11.8" height="11.6" fill="#e9c5dd" stroke="#333" stroke-width="0.7"/>
<rect x="577.3" y="554.7" width="11.8" height="11.6" fill="#c87db3" stroke="#333" stroke-width="0.7"/>
<rect x="591.5" y="554.7" width="11.8" height="11.6" fill="#8f3a84" stroke="#333" stroke-width="0.7"/>
<rect x="618.7" y="554.7" width="11.8" height="11.6" fill="#aad9c2" stroke="#333" stroke-width="0.7"/>
<rect x="632.7" y="554.7" width="11.8" height="11.6" fill="#4fae7c" stroke="#333" stroke-width="0.7"/>
<rect x="647.2" y="554.7" width="11.8" height="11.6" fill="#1f8a50" stroke="#333" stroke-width="0.7"/>
<g stroke="#111" stroke-width="0.8" fill="none">
<line x1="611.5" y1="579.5" x2="611.5" y2="618.4" marker-end="url(#ah)"/>
<line x1="611.5" y1="683.1" x2="611.5" y2="707.7" marker-end="url(#ah)"/>
<line x1="542.9" y1="602.2" x2="576.4" y2="602.2" marker-end="url(#ah)"/>
</g>
<text x="639.2" y="596.5" font-size="8.8" text-anchor="middle" fill="#404040" font-weight="normal" textLength="43.6" lengthAdjust="spacingAndGlyphs" >Regulatory</text>
<text x="640.4" y="606.6" font-size="8.8" text-anchor="middle" fill="#404040" font-weight="normal" textLength="38.7" lengthAdjust="spacingAndGlyphs" >variations</text>
<text x="559.7" y="614.4" font-size="8.8" text-anchor="middle" fill="#404040" font-weight="normal" textLength="43.6" lengthAdjust="spacingAndGlyphs" >Expression</text>
<circle cx="546" cy="591.6" r="2.1" fill="#e8387e"/>
<circle cx="569.4" cy="591.6" r="5.5" fill="#e8387e"/>
<text transform="translate(544.4,652.9) rotate(-90)" font-size="8.8" text-anchor="middle" fill="#404040" textLength="44.3" lengthAdjust="spacingAndGlyphs">Timepoints</text>
<text x="556.6" y="634.7" font-size="8.8" text-anchor="middle" fill="#404040" font-weight="normal" >1</text>
<circle cx="570.1" cy="631.6" r="2.0" fill="#e8387e"/>
<circle cx="584.5" cy="631.6" r="5.4" fill="#e8387e"/>
<circle cx="599.0" cy="631.6" r="2.0" fill="#e8387e"/>
<circle cx="626.8" cy="631.6" r="5.4" fill="#e8387e"/>
<circle cx="641.3" cy="631.6" r="2.0" fill="#e8387e"/>
<circle cx="655.8" cy="631.6" r="2.0" fill="#e8387e"/>
<text x="556.6" y="655.6" font-size="8.8" text-anchor="middle" fill="#404040" font-weight="normal" >2</text>
<circle cx="570.1" cy="652.5" r="5.4" fill="#e8387e"/>
<circle cx="584.5" cy="652.5" r="2.0" fill="#e8387e"/>
<circle cx="599.0" cy="652.5" r="2.0" fill="#e8387e"/>
<circle cx="624.9" cy="652.5" r="2.0" fill="#e8387e"/>
<circle cx="639.4" cy="652.5" r="5.4" fill="#e8387e"/>
<circle cx="653.9" cy="652.5" r="2.0" fill="#e8387e"/>
<text x="556.6" y="674.9" font-size="8.8" text-anchor="middle" fill="#404040" font-weight="normal" >3</text>
<circle cx="570.1" cy="671.8" r="2.0" fill="#e8387e"/>
<circle cx="584.5" cy="671.8" r="2.0" fill="#e8387e"/>
<circle cx="599.0" cy="671.8" r="5.4" fill="#e8387e"/>
<circle cx="623" cy="671.8" r="2.0" fill="#e8387e"/>
<circle cx="637.5" cy="671.8" r="2.0" fill="#e8387e"/>
<circle cx="652" cy="671.8" r="5.4" fill="#e8387e"/>
<text x="643.5" y="693.4" font-size="8.8" text-anchor="middle" fill="#404040" font-weight="normal" textLength="50.7" lengthAdjust="spacingAndGlyphs" >Effectors per</text>
<text x="644.6" y="703.4" font-size="8.8" text-anchor="middle" fill="#404040" font-weight="normal" textLength="39" lengthAdjust="spacingAndGlyphs" >timepoint</text>
<text x="582.6" y="720.6" font-size="8.8" text-anchor="middle" fill="#404040" font-weight="normal" >1</text>
<text x="610.3" y="720.6" font-size="8.8" text-anchor="middle" fill="#404040" font-weight="normal" >2</text>
<text x="638.0" y="720.6" font-size="8.8" text-anchor="middle" fill="#404040" font-weight="normal" >3</text>
<rect x="577.1" y="724.8" width="11.6" height="12" fill="#c87db3" stroke="#333" stroke-width="0.7"/>
<rect x="577.1" y="742.4" width="11.6" height="12" fill="#aad9c2" stroke="#333" stroke-width="0.7"/>
<rect x="604.8" y="724.8" width="11.6" height="12" fill="#e9c5dd" stroke="#333" stroke-width="0.7"/>
<rect x="604.8" y="742.4" width="11.6" height="12" fill="#4fae7c" stroke="#333" stroke-width="0.7"/>
<rect x="632.5" y="724.8" width="11.6" height="12" fill="#8f3a84" stroke="#333" stroke-width="0.7"/>
<rect x="632.5" y="742.4" width="11.6" height="12" fill="#1f8a50" stroke="#333" stroke-width="0.7"/>
</svg>
</body></html>
